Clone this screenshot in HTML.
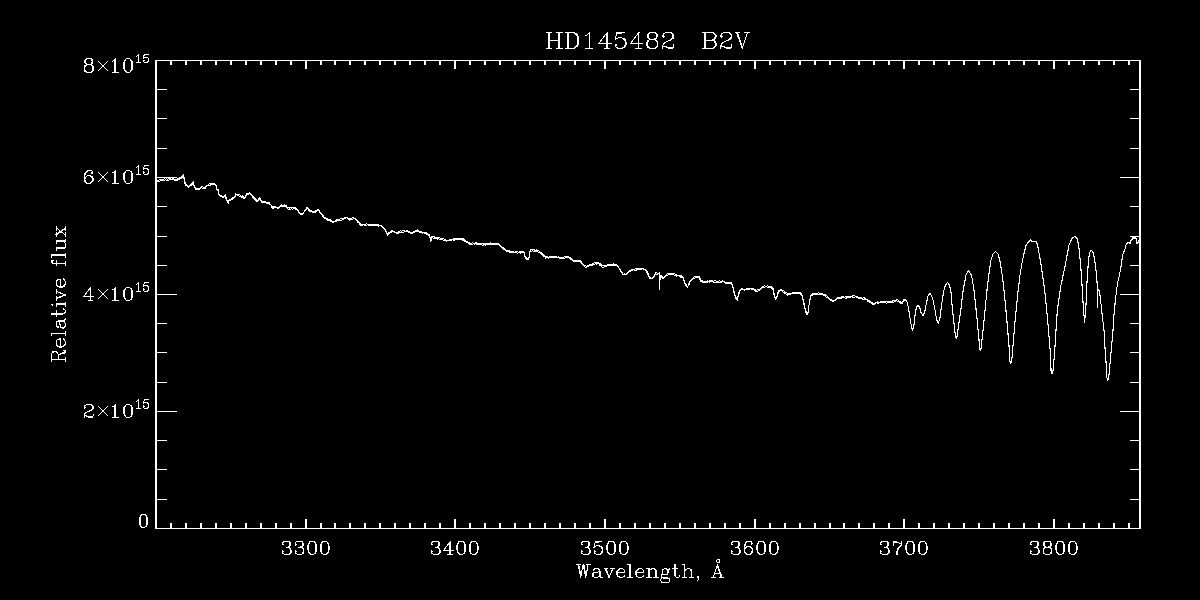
<!DOCTYPE html>
<html lang="en"><head><meta charset="utf-8"><title>HD145482 B2V spectrum</title>
<style>
html,body{margin:0;padding:0;background:#000;}
body{width:1200px;height:600px;overflow:hidden;font-family:"Liberation Serif",serif;}
svg{display:block;}
.ax rect{fill:#fff;}
.tx path{fill:none;stroke:#fff;stroke-width:1;stroke-linecap:square;stroke-linejoin:miter;}
.cv{fill:none;stroke:#fff;stroke-linejoin:round;}
.c1{stroke-width:1;}
.c2{stroke-width:1.1;}
</style></head><body>
<svg width="1200" height="600" viewBox="0 0 1200 600" role="img" aria-label="HD145482 B2V: relative flux versus wavelength in Angstrom">
<rect width="1200" height="600" fill="#000"/>
<g class="ax" shape-rendering="crispEdges">
<rect x="155" y="60" width="2" height="469"/>
<rect x="1139" y="60" width="2" height="469"/>
<rect x="155" y="60" width="986" height="1"/>
<rect x="155" y="528" width="986" height="1"/>
<rect x="170" y="523" width="2" height="5"/>
<rect x="170" y="61" width="2" height="4"/>
<rect x="185" y="523" width="2" height="5"/>
<rect x="185" y="61" width="2" height="4"/>
<rect x="200" y="523" width="2" height="5"/>
<rect x="200" y="61" width="2" height="4"/>
<rect x="215" y="523" width="2" height="5"/>
<rect x="215" y="61" width="2" height="4"/>
<rect x="230" y="523" width="2" height="5"/>
<rect x="230" y="61" width="2" height="4"/>
<rect x="245" y="523" width="2" height="5"/>
<rect x="245" y="61" width="2" height="4"/>
<rect x="260" y="523" width="2" height="5"/>
<rect x="260" y="61" width="2" height="4"/>
<rect x="275" y="523" width="2" height="5"/>
<rect x="275" y="61" width="2" height="4"/>
<rect x="290" y="523" width="2" height="5"/>
<rect x="290" y="61" width="2" height="4"/>
<rect x="305" y="519" width="2" height="9"/>
<rect x="305" y="61" width="2" height="8"/>
<rect x="320" y="523" width="2" height="5"/>
<rect x="320" y="61" width="2" height="4"/>
<rect x="334" y="523" width="2" height="5"/>
<rect x="334" y="61" width="2" height="4"/>
<rect x="349" y="523" width="2" height="5"/>
<rect x="349" y="61" width="2" height="4"/>
<rect x="364" y="523" width="2" height="5"/>
<rect x="364" y="61" width="2" height="4"/>
<rect x="379" y="523" width="2" height="5"/>
<rect x="379" y="61" width="2" height="4"/>
<rect x="394" y="523" width="2" height="5"/>
<rect x="394" y="61" width="2" height="4"/>
<rect x="409" y="523" width="2" height="5"/>
<rect x="409" y="61" width="2" height="4"/>
<rect x="424" y="523" width="2" height="5"/>
<rect x="424" y="61" width="2" height="4"/>
<rect x="439" y="523" width="2" height="5"/>
<rect x="439" y="61" width="2" height="4"/>
<rect x="454" y="519" width="2" height="9"/>
<rect x="454" y="61" width="2" height="8"/>
<rect x="469" y="523" width="2" height="5"/>
<rect x="469" y="61" width="2" height="4"/>
<rect x="484" y="523" width="2" height="5"/>
<rect x="484" y="61" width="2" height="4"/>
<rect x="499" y="523" width="2" height="5"/>
<rect x="499" y="61" width="2" height="4"/>
<rect x="514" y="523" width="2" height="5"/>
<rect x="514" y="61" width="2" height="4"/>
<rect x="529" y="523" width="2" height="5"/>
<rect x="529" y="61" width="2" height="4"/>
<rect x="544" y="523" width="2" height="5"/>
<rect x="544" y="61" width="2" height="4"/>
<rect x="559" y="523" width="2" height="5"/>
<rect x="559" y="61" width="2" height="4"/>
<rect x="574" y="523" width="2" height="5"/>
<rect x="574" y="61" width="2" height="4"/>
<rect x="589" y="523" width="2" height="5"/>
<rect x="589" y="61" width="2" height="4"/>
<rect x="604" y="519" width="2" height="9"/>
<rect x="604" y="61" width="2" height="8"/>
<rect x="619" y="523" width="2" height="5"/>
<rect x="619" y="61" width="2" height="4"/>
<rect x="634" y="523" width="2" height="5"/>
<rect x="634" y="61" width="2" height="4"/>
<rect x="649" y="523" width="2" height="5"/>
<rect x="649" y="61" width="2" height="4"/>
<rect x="664" y="523" width="2" height="5"/>
<rect x="664" y="61" width="2" height="4"/>
<rect x="679" y="523" width="2" height="5"/>
<rect x="679" y="61" width="2" height="4"/>
<rect x="694" y="523" width="2" height="5"/>
<rect x="694" y="61" width="2" height="4"/>
<rect x="709" y="523" width="2" height="5"/>
<rect x="709" y="61" width="2" height="4"/>
<rect x="724" y="523" width="2" height="5"/>
<rect x="724" y="61" width="2" height="4"/>
<rect x="739" y="523" width="2" height="5"/>
<rect x="739" y="61" width="2" height="4"/>
<rect x="754" y="519" width="2" height="9"/>
<rect x="754" y="61" width="2" height="8"/>
<rect x="769" y="523" width="2" height="5"/>
<rect x="769" y="61" width="2" height="4"/>
<rect x="784" y="523" width="2" height="5"/>
<rect x="784" y="61" width="2" height="4"/>
<rect x="799" y="523" width="2" height="5"/>
<rect x="799" y="61" width="2" height="4"/>
<rect x="814" y="523" width="2" height="5"/>
<rect x="814" y="61" width="2" height="4"/>
<rect x="829" y="523" width="2" height="5"/>
<rect x="829" y="61" width="2" height="4"/>
<rect x="843" y="523" width="2" height="5"/>
<rect x="843" y="61" width="2" height="4"/>
<rect x="858" y="523" width="2" height="5"/>
<rect x="858" y="61" width="2" height="4"/>
<rect x="873" y="523" width="2" height="5"/>
<rect x="873" y="61" width="2" height="4"/>
<rect x="888" y="523" width="2" height="5"/>
<rect x="888" y="61" width="2" height="4"/>
<rect x="903" y="519" width="2" height="9"/>
<rect x="903" y="61" width="2" height="8"/>
<rect x="918" y="523" width="2" height="5"/>
<rect x="918" y="61" width="2" height="4"/>
<rect x="933" y="523" width="2" height="5"/>
<rect x="933" y="61" width="2" height="4"/>
<rect x="948" y="523" width="2" height="5"/>
<rect x="948" y="61" width="2" height="4"/>
<rect x="963" y="523" width="2" height="5"/>
<rect x="963" y="61" width="2" height="4"/>
<rect x="978" y="523" width="2" height="5"/>
<rect x="978" y="61" width="2" height="4"/>
<rect x="993" y="523" width="2" height="5"/>
<rect x="993" y="61" width="2" height="4"/>
<rect x="1008" y="523" width="2" height="5"/>
<rect x="1008" y="61" width="2" height="4"/>
<rect x="1023" y="523" width="2" height="5"/>
<rect x="1023" y="61" width="2" height="4"/>
<rect x="1038" y="523" width="2" height="5"/>
<rect x="1038" y="61" width="2" height="4"/>
<rect x="1053" y="519" width="2" height="9"/>
<rect x="1053" y="61" width="2" height="8"/>
<rect x="1068" y="523" width="2" height="5"/>
<rect x="1068" y="61" width="2" height="4"/>
<rect x="1083" y="523" width="2" height="5"/>
<rect x="1083" y="61" width="2" height="4"/>
<rect x="1098" y="523" width="2" height="5"/>
<rect x="1098" y="61" width="2" height="4"/>
<rect x="1113" y="523" width="2" height="5"/>
<rect x="1113" y="61" width="2" height="4"/>
<rect x="1128" y="523" width="2" height="5"/>
<rect x="1128" y="61" width="2" height="4"/>
<rect x="157" y="499" width="10" height="1"/>
<rect x="1130" y="499" width="9" height="1"/>
<rect x="157" y="469" width="10" height="1"/>
<rect x="1130" y="469" width="9" height="1"/>
<rect x="157" y="440" width="10" height="1"/>
<rect x="1130" y="440" width="9" height="1"/>
<rect x="157" y="411" width="20" height="1"/>
<rect x="1120" y="411" width="19" height="1"/>
<rect x="157" y="382" width="10" height="1"/>
<rect x="1130" y="382" width="9" height="1"/>
<rect x="157" y="352" width="10" height="1"/>
<rect x="1130" y="352" width="9" height="1"/>
<rect x="157" y="323" width="10" height="1"/>
<rect x="1130" y="323" width="9" height="1"/>
<rect x="157" y="294" width="20" height="1"/>
<rect x="1120" y="294" width="19" height="1"/>
<rect x="157" y="265" width="10" height="1"/>
<rect x="1130" y="265" width="9" height="1"/>
<rect x="157" y="236" width="10" height="1"/>
<rect x="1130" y="236" width="9" height="1"/>
<rect x="157" y="206" width="10" height="1"/>
<rect x="1130" y="206" width="9" height="1"/>
<rect x="157" y="177" width="20" height="1"/>
<rect x="1120" y="177" width="19" height="1"/>
<rect x="157" y="148" width="10" height="1"/>
<rect x="1130" y="148" width="9" height="1"/>
<rect x="157" y="118" width="10" height="1"/>
<rect x="1130" y="118" width="9" height="1"/>
<rect x="157" y="89" width="10" height="1"/>
<rect x="1130" y="89" width="9" height="1"/>
</g>
<g class="tx" shape-rendering="crispEdges">
<path aria-label="3300" d="M282.94,543.88 283.57,544.5 282.94,545.12 282.3,544.5 282.3,543.88 282.94,542.62 283.68,541.95 285.43,541.38 288.07,541.38 288.5,541.53M288.5,541.53 288.6,541.64M288.71,541.69 289.29,542 289.92,543.25 289.92,545.17 289.34,546.33 288.71,546.69M288.5,554.34 288.6,554.24M288.5,554.34 288.07,554.5 285.43,554.5 283.68,553.92 282.89,553.2 282.3,552.05 282.3,551.38 282.94,550.75 283.57,551.38 282.94,552M289.98,548.36 289.24,547.58 288.07,547M289.98,548.36 290.56,548.88 291.19,550.12 291.19,552.05 290.61,553.2 289.92,553.88 288.76,554.24M289.98,548.36 290.56,550.08 290.56,552.05 289.98,553.2 289.24,553.92 288.71,554.19M288.07,547 288.5,546.84M288.07,547 286.11,547M288.6,546.74 288.5,546.84M288.76,554.24 288.6,554.29M288.6,546.79 288.76,546.74M288.76,541.64 288.6,541.58M288.76,541.64 289.82,541.95 290.56,543.25 290.56,545.17 289.98,546.33 288.76,546.74M295.64,543.88 296.27,544.5 295.64,545.12 295,544.5 295,543.88 295.64,542.62 296.38,541.95 298.13,541.38 300.77,541.38 301.2,541.53M301.2,541.53 301.3,541.64M301.41,541.69 301.99,542 302.62,543.25 302.62,545.17 302.04,546.33 301.41,546.69M301.2,554.34 301.3,554.24M301.2,554.34 300.77,554.5 298.13,554.5 296.38,553.92 295.59,553.2 295,552.05 295,551.38 295.64,550.75 296.27,551.38 295.64,552M302.68,548.36 301.94,547.58 300.77,547M302.68,548.36 303.26,548.88 303.89,550.12 303.89,552.05 303.31,553.2 302.62,553.88 301.46,554.24M302.68,548.36 303.26,550.08 303.26,552.05 302.68,553.2 301.94,553.92 301.41,554.19M300.77,547 301.2,546.84M300.77,547 298.81,547M301.3,546.74 301.2,546.84M301.46,554.24 301.3,554.29M301.3,546.79 301.46,546.74M301.46,541.64 301.3,541.58M301.46,541.64 302.52,541.95 303.26,543.25 303.26,545.17 302.68,546.33 301.46,546.74M310.93,554.29 309.61,553.88 308.39,552.11 307.7,548.98 307.7,546.89 308.34,543.88 309.61,542 310.93,541.58M310.93,554.29 311.09,554.34M313.37,541.64 313.26,541.53M313.37,554.29 313.53,554.24M313.53,541.64 313.37,541.58M313.53,541.64 314.69,542 315.91,543.77 316.59,546.89 316.59,548.98 315.96,552 314.69,553.88 313.53,554.24M311.2,541.48 311.46,541.38 312.84,541.38 313.26,541.53M311.2,541.48 311.09,541.58M311.09,554.29 311.2,554.39M313.37,554.24 313.26,554.34M310.99,554.24 310.25,553.88 309.56,553.2 308.97,552.05 308.34,548.98 308.34,546.89 308.97,543.88 309.61,542.62 310.25,542 310.99,541.64M310.93,541.58 311.09,541.53M311.2,554.39 311.51,554.5 312.84,554.5 313.26,554.34M313.47,541.69 314,541.95 314.69,542.62 315.32,543.88 315.96,546.89 315.96,548.98 315.32,552.05 314.74,553.2 314,553.92 313.47,554.19M323.63,554.29 322.31,553.88 321.09,552.11 320.4,548.98 320.4,546.89 321.04,543.88 322.31,542 323.63,541.58M323.63,554.29 323.79,554.34M326.07,541.64 325.96,541.53M326.07,554.29 326.23,554.24M326.23,541.64 326.07,541.58M326.23,541.64 327.39,542 328.61,543.77 329.29,546.89 329.29,548.98 328.66,552 327.39,553.88 326.23,554.24M323.9,541.48 324.16,541.38 325.54,541.38 325.96,541.53M323.9,541.48 323.79,541.58M323.79,554.29 323.9,554.39M326.07,554.24 325.96,554.34M323.69,554.24 322.94,553.88 322.26,553.2 321.67,552.05 321.04,548.98 321.04,546.89 321.67,543.88 322.31,542.62 322.94,542 323.69,541.64M323.63,541.58 323.79,541.53M323.9,554.39 324.21,554.5 325.54,554.5 325.96,554.34M326.17,541.69 326.7,541.95 327.39,542.62 328.02,543.88 328.66,546.89 328.66,548.98 328.02,552.05 327.44,553.2 326.7,553.92 326.17,554.19"><title>3300</title></path>
<path aria-label="3400" d="M431.94,543.88 432.57,544.5 431.94,545.12 431.3,544.5 431.3,543.88 431.94,542.62 432.68,541.95 434.43,541.38 437.07,541.38 437.5,541.53M437.5,541.53 437.6,541.64M437.71,541.69 438.29,542 438.92,543.25 438.92,545.17 438.34,546.33 437.71,546.69M437.5,554.34 437.6,554.24M437.5,554.34 437.07,554.5 434.43,554.5 432.68,553.92 431.89,553.2 431.3,552.05 431.3,551.38 431.94,550.75 432.57,551.38 431.94,552M438.98,548.36 438.24,547.58 437.07,547M438.98,548.36 439.56,548.88 440.19,550.12 440.19,552.05 439.61,553.2 438.92,553.88 437.76,554.24M438.98,548.36 439.56,550.08 439.56,552.05 438.98,553.2 438.24,553.92 437.71,554.19M437.07,547 437.5,546.84M437.07,547 435.11,547M437.6,546.74 437.5,546.84M437.76,554.24 437.6,554.29M437.6,546.79 437.76,546.74M437.76,541.64 437.6,541.58M437.76,541.64 438.82,541.95 439.56,543.25 439.56,545.17 438.98,546.33 437.76,546.74M452.26,554.5 450.35,554.5M450.35,541.48 449.83,542.05 443.42,550.64 443.48,550.75 449.72,550.75M450.35,541.48 450.35,550.75M449.72,550.75 449.72,542.62M449.72,550.75 450.35,550.75M449.72,550.75 449.72,554.5M450.35,550.75 453.53,550.75M450.35,550.75 450.35,554.5M449.72,554.5 447.81,554.5M449.72,554.5 450.35,554.5M459.93,554.29 458.61,553.88 457.39,552.11 456.7,548.98 456.7,546.89 457.34,543.88 458.61,542 459.93,541.58M459.93,554.29 460.09,554.34M462.37,541.64 462.26,541.53M462.37,554.29 462.53,554.24M462.53,541.64 462.37,541.58M462.53,541.64 463.69,542 464.91,543.77 465.59,546.89 465.59,548.98 464.96,552 463.69,553.88 462.53,554.24M460.2,541.48 460.46,541.38 461.84,541.38 462.26,541.53M460.2,541.48 460.09,541.58M460.09,554.29 460.2,554.39M462.37,554.24 462.26,554.34M459.99,554.24 459.25,553.88 458.56,553.2 457.97,552.05 457.34,548.98 457.34,546.89 457.97,543.88 458.61,542.62 459.25,542 459.99,541.64M459.93,541.58 460.09,541.53M460.2,554.39 460.51,554.5 461.84,554.5 462.26,554.34M462.47,541.69 463,541.95 463.69,542.62 464.32,543.88 464.96,546.89 464.96,548.98 464.32,552.05 463.74,553.2 463,553.92 462.47,554.19M472.63,554.29 471.31,553.88 470.09,552.11 469.4,548.98 469.4,546.89 470.04,543.88 471.31,542 472.63,541.58M472.63,554.29 472.79,554.34M475.07,541.64 474.96,541.53M475.07,554.29 475.23,554.24M475.23,541.64 475.07,541.58M475.23,541.64 476.39,542 477.61,543.77 478.29,546.89 478.29,548.98 477.66,552 476.39,553.88 475.23,554.24M472.9,541.48 473.16,541.38 474.54,541.38 474.96,541.53M472.9,541.48 472.79,541.58M472.79,554.29 472.9,554.39M475.07,554.24 474.96,554.34M472.69,554.24 471.94,553.88 471.26,553.2 470.67,552.05 470.04,548.98 470.04,546.89 470.67,543.88 471.31,542.62 471.94,542 472.69,541.64M472.63,541.58 472.79,541.53M472.9,554.39 473.21,554.5 474.54,554.5 474.96,554.34M475.17,541.69 475.7,541.95 476.39,542.62 477.02,543.88 477.66,546.89 477.66,548.98 477.02,552.05 476.44,553.2 475.7,553.92 475.17,554.19"><title>3400</title></path>
<path aria-label="3500" d="M581.94,543.88 582.57,544.5 581.94,545.12 581.3,544.5 581.3,543.88 581.94,542.62 582.68,541.95 584.43,541.38 587.07,541.38 587.5,541.53M587.5,541.53 587.6,541.64M587.71,541.69 588.29,542 588.92,543.25 588.92,545.17 588.34,546.33 587.71,546.69M587.5,554.34 587.6,554.24M587.5,554.34 587.07,554.5 584.43,554.5 582.68,553.92 581.89,553.2 581.3,552.05 581.3,551.38 581.94,550.75 582.57,551.38 581.94,552M588.98,548.36 588.24,547.58 587.07,547M588.98,548.36 589.56,548.88 590.19,550.12 590.19,552.05 589.61,553.2 588.92,553.88 587.76,554.24M588.98,548.36 589.56,550.08 589.56,552.05 588.98,553.2 588.24,553.92 587.71,554.19M587.07,547 587.5,546.84M587.07,547 585.12,547M587.6,546.74 587.5,546.84M587.76,554.24 587.6,554.29M587.6,546.79 587.76,546.74M587.76,541.64 587.6,541.58M587.76,541.64 588.82,541.95 589.56,543.25 589.56,545.17 588.98,546.33 587.76,546.74M599.83,546.01 599.67,545.96M599.83,546.01 600.99,546.38 602.26,547.62 602.89,549.45 602.89,550.8 602.26,552.62 600.99,553.88 599.83,554.24M595.27,542 598.56,542 601.2,541.48 601.26,541.38M601.62,541.38 601.26,541.38M599.67,554.29 599.83,554.24M594.64,552 595.27,551.38 594.64,550.75 594,551.38 594,552.05 594.59,553.2 595.38,553.92 597.13,554.5 599.14,554.5 599.56,554.34M599.56,545.91 599.14,545.75 597.13,545.75 595.27,546.38 594.11,547.52M599.56,545.91 599.67,546.01M599.77,546.06 600.3,546.33 601.62,547.62 602.26,549.45 602.26,550.8 601.62,552.62 600.3,553.92 599.77,554.19M599.56,554.34 599.67,554.24M601.26,541.38 595.33,541.38 594.06,547.47M609.93,554.29 608.61,553.88 607.39,552.11 606.7,548.98 606.7,546.89 607.34,543.88 608.61,542 609.93,541.58M609.93,554.29 610.09,554.34M612.37,541.64 612.26,541.53M612.37,554.29 612.53,554.24M612.53,541.64 612.37,541.58M612.53,541.64 613.69,542 614.91,543.77 615.6,546.89 615.6,548.98 614.96,552 613.69,553.88 612.53,554.24M610.2,541.48 610.46,541.38 611.84,541.38 612.26,541.53M610.2,541.48 610.09,541.58M610.09,554.29 610.2,554.39M612.37,554.24 612.26,554.34M609.99,554.24 609.25,553.88 608.56,553.2 607.98,552.05 607.34,548.98 607.34,546.89 607.98,543.88 608.61,542.62 609.25,542 609.99,541.64M609.93,541.58 610.09,541.53M610.2,554.39 610.51,554.5 611.84,554.5 612.26,554.34M612.47,541.69 613,541.95 613.69,542.62 614.32,543.88 614.96,546.89 614.96,548.98 614.32,552.05 613.74,553.2 613,553.92 612.47,554.19M622.63,554.29 621.31,553.88 620.09,552.11 619.4,548.98 619.4,546.89 620.04,543.88 621.31,542 622.63,541.58M622.63,554.29 622.79,554.34M625.07,541.64 624.96,541.53M625.07,554.29 625.23,554.24M625.23,541.64 625.07,541.58M625.23,541.64 626.39,542 627.61,543.77 628.29,546.89 628.29,548.98 627.66,552 626.39,553.88 625.23,554.24M622.9,541.48 623.16,541.38 624.54,541.38 624.96,541.53M622.9,541.48 622.79,541.58M622.79,554.29 622.9,554.39M625.07,554.24 624.96,554.34M622.69,554.24 621.94,553.88 621.26,553.2 620.67,552.05 620.04,548.98 620.04,546.89 620.67,543.88 621.31,542.62 621.94,542 622.69,541.64M622.63,541.58 622.79,541.53M622.9,554.39 623.21,554.5 624.54,554.5 624.96,554.34M625.17,541.69 625.7,541.95 626.39,542.62 627.02,543.88 627.66,546.89 627.66,548.98 627.02,552.05 626.44,553.2 625.7,553.92 625.17,554.19"><title>3500</title></path>
<path aria-label="3600" d="M731.94,543.88 732.57,544.5 731.94,545.12 731.3,544.5 731.3,543.88 731.94,542.62 732.68,541.95 734.43,541.38 737.07,541.38 737.5,541.53M737.5,541.53 737.6,541.64M737.71,541.69 738.29,542 738.92,543.25 738.92,545.17 738.34,546.33 737.71,546.69M737.5,554.34 737.6,554.24M737.5,554.34 737.07,554.5 734.43,554.5 732.68,553.92 731.89,553.2 731.3,552.05 731.3,551.38 731.94,550.75 732.57,551.38 731.94,552M738.98,548.36 738.24,547.58 737.07,547M738.98,548.36 739.56,548.88 740.19,550.12 740.19,552.05 739.61,553.2 738.92,553.88 737.76,554.24M738.98,548.36 739.56,550.08 739.56,552.05 738.98,553.2 738.24,553.92 737.71,554.19M737.07,547 737.5,546.84M737.07,547 735.12,547M737.6,546.74 737.5,546.84M737.76,554.24 737.6,554.29M737.6,546.79 737.76,546.74M737.76,541.64 737.6,541.58M737.76,541.64 738.82,541.95 739.56,543.25 739.56,545.17 738.98,546.33 737.76,546.74M747.87,541.58 748.02,541.53M747.87,541.58 746.54,542 745.27,543.25 744.64,544.5 744,546.95 744,550.8 744.59,552.52 745.91,553.88 747.23,554.29M747.23,554.29 747.39,554.34M748.02,541.58 748.13,541.48M749.67,546.64 749.56,546.53M749.67,554.29 749.83,554.24M747.39,554.29 747.5,554.39M751.62,543.25 750.99,543.88 751.62,544.5 752.26,543.88 752.26,543.25 751.57,541.95 750.41,541.38 748.4,541.38 748.13,541.48M747.29,554.24 746.54,553.88 745.27,552.62 744.64,550.8 744.64,549.92M749.83,546.64 749.67,546.58M749.83,546.64 750.99,547 752.26,548.25 752.89,550.08 752.89,550.8 752.26,552.62 750.99,553.88 749.83,554.24M747.5,554.39 747.81,554.5 749.14,554.5 749.56,554.34M749.56,554.34 749.67,554.24M744.64,549.92 744.64,546.95 745.27,544.5 745.91,543.25 747.18,542 747.92,541.64M744.64,549.92 744.75,549.86 745.27,548.25 746.54,547 748.4,546.38 749.14,546.38 749.56,546.53M749.77,554.19 750.3,553.92 751.62,552.62 752.26,550.8 752.26,550.08 751.62,548.25 750.3,546.95 749.77,546.69M759.93,554.29 758.61,553.88 757.39,552.11 756.7,548.98 756.7,546.89 757.34,543.88 758.61,542 759.93,541.58M759.93,554.29 760.09,554.34M762.37,541.64 762.26,541.53M762.37,554.29 762.53,554.24M762.53,541.64 762.37,541.58M762.53,541.64 763.69,542 764.91,543.77 765.6,546.89 765.6,548.98 764.96,552 763.69,553.88 762.53,554.24M760.2,541.48 760.46,541.38 761.84,541.38 762.26,541.53M760.2,541.48 760.09,541.58M760.09,554.29 760.2,554.39M762.37,554.24 762.26,554.34M759.99,554.24 759.25,553.88 758.56,553.2 757.98,552.05 757.34,548.98 757.34,546.89 757.98,543.88 758.61,542.62 759.25,542 759.99,541.64M759.93,541.58 760.09,541.53M760.2,554.39 760.51,554.5 761.84,554.5 762.26,554.34M762.47,541.69 763,541.95 763.69,542.62 764.32,543.88 764.96,546.89 764.96,548.98 764.32,552.05 763.74,553.2 763,553.92 762.47,554.19M772.63,554.29 771.31,553.88 770.09,552.11 769.4,548.98 769.4,546.89 770.04,543.88 771.31,542 772.63,541.58M772.63,554.29 772.79,554.34M775.07,541.64 774.96,541.53M775.07,554.29 775.23,554.24M775.23,541.64 775.07,541.58M775.23,541.64 776.39,542 777.61,543.77 778.29,546.89 778.29,548.98 777.66,552 776.39,553.88 775.23,554.24M772.9,541.48 773.16,541.38 774.54,541.38 774.96,541.53M772.9,541.48 772.79,541.58M772.79,554.29 772.9,554.39M775.07,554.24 774.96,554.34M772.69,554.24 771.94,553.88 771.26,553.2 770.67,552.05 770.04,548.98 770.04,546.89 770.67,543.88 771.31,542.62 771.94,542 772.69,541.64M772.63,541.58 772.79,541.53M772.9,554.39 773.21,554.5 774.54,554.5 774.96,554.34M775.17,541.69 775.7,541.95 776.39,542.62 777.02,543.88 777.66,546.89 777.66,548.98 777.02,552.05 776.44,553.2 775.7,553.92 775.17,554.19"><title>3600</title></path>
<path aria-label="3700" d="M880.94,543.88 881.57,544.5 880.94,545.12 880.3,544.5 880.3,543.88 880.94,542.62 881.68,541.95 883.43,541.38 886.07,541.38 886.5,541.53M886.5,541.53 886.6,541.64M886.71,541.69 887.29,542 887.92,543.25 887.92,545.17 887.34,546.33 886.71,546.69M886.5,554.34 886.6,554.24M886.5,554.34 886.07,554.5 883.43,554.5 881.68,553.92 880.89,553.2 880.3,552.05 880.3,551.38 880.94,550.75 881.57,551.38 880.94,552M887.98,548.36 887.24,547.58 886.07,547M887.98,548.36 888.56,548.88 889.19,550.12 889.19,552.05 888.61,553.2 887.92,553.88 886.76,554.24M887.98,548.36 888.56,550.08 888.56,552.05 887.98,553.2 887.24,553.92 886.71,554.19M886.07,547 886.5,546.84M886.07,547 884.12,547M886.6,546.74 886.5,546.84M886.76,554.24 886.6,554.29M886.6,546.79 886.76,546.74M886.76,541.64 886.6,541.58M886.76,541.64 887.82,541.95 888.56,543.25 888.56,545.17 887.98,546.33 886.76,546.74M901.89,541.38 901.89,541.53M898.88,543.04 896.23,542 894.91,542 893.85,542.52M901.89,541.53 901.31,542.58 900.62,543.25 899.36,543.25 899.09,543.14M901.89,541.53 901.89,543.3 901.31,545.02 900.94,545.49M893,541.38 893,543.77M900.68,545.7 898.08,548.25 897.4,549.61 896.81,551.33 896.81,554.5M893.75,542.58 893,543.77M897.45,554.5 897.45,551.33 898.03,549.61 898.83,548.09 900.73,545.75M893,545.12 893,543.77M893.8,542.47 894.91,541.38 896.18,541.38 898.88,542.99M898.99,543.04 899.09,543.14M908.93,554.29 907.61,553.88 906.39,552.11 905.7,548.98 905.7,546.89 906.34,543.88 907.61,542 908.93,541.58M908.93,554.29 909.09,554.34M911.37,541.64 911.26,541.53M911.37,554.29 911.53,554.24M911.53,541.64 911.37,541.58M911.53,541.64 912.69,542 913.91,543.77 914.6,546.89 914.6,548.98 913.96,552 912.69,553.88 911.53,554.24M909.2,541.48 909.46,541.38 910.84,541.38 911.26,541.53M909.2,541.48 909.09,541.58M909.09,554.29 909.2,554.39M911.37,554.24 911.26,554.34M908.99,554.24 908.25,553.88 907.56,553.2 906.98,552.05 906.34,548.98 906.34,546.89 906.98,543.88 907.61,542.62 908.25,542 908.99,541.64M908.93,541.58 909.09,541.53M909.2,554.39 909.51,554.5 910.84,554.5 911.26,554.34M911.47,541.69 912,541.95 912.69,542.62 913.32,543.88 913.96,546.89 913.96,548.98 913.32,552.05 912.74,553.2 912,553.92 911.47,554.19M921.63,554.29 920.31,553.88 919.09,552.11 918.4,548.98 918.4,546.89 919.04,543.88 920.31,542 921.63,541.58M921.63,554.29 921.79,554.34M924.07,541.64 923.96,541.53M924.07,554.29 924.23,554.24M924.23,541.64 924.07,541.58M924.23,541.64 925.39,542 926.61,543.77 927.29,546.89 927.29,548.98 926.66,552 925.39,553.88 924.23,554.24M921.9,541.48 922.16,541.38 923.54,541.38 923.96,541.53M921.9,541.48 921.79,541.58M921.79,554.29 921.9,554.39M924.07,554.24 923.96,554.34M921.69,554.24 920.94,553.88 920.26,553.2 919.67,552.05 919.04,548.98 919.04,546.89 919.67,543.88 920.31,542.62 920.94,542 921.69,541.64M921.63,541.58 921.79,541.53M921.9,554.39 922.21,554.5 923.54,554.5 923.96,554.34M924.17,541.69 924.7,541.95 925.39,542.62 926.02,543.88 926.66,546.89 926.66,548.98 926.02,552.05 925.44,553.2 924.7,553.92 924.17,554.19"><title>3700</title></path>
<path aria-label="3800" d="M1030.94,543.88 1031.58,544.5 1030.94,545.12 1030.31,544.5 1030.31,543.88 1030.94,542.62 1031.68,541.95 1033.43,541.38 1036.07,541.38 1036.5,541.53M1036.5,541.53 1036.6,541.64M1036.71,541.69 1037.29,542 1037.93,543.25 1037.93,545.17 1037.34,546.33 1036.71,546.69M1036.5,554.34 1036.6,554.24M1036.5,554.34 1036.07,554.5 1033.43,554.5 1031.68,553.92 1030.89,553.2 1030.31,552.05 1030.31,551.38 1030.94,550.75 1031.58,551.38 1030.94,552M1037.98,548.36 1037.24,547.58 1036.07,547M1037.98,548.36 1038.56,548.88 1039.2,550.12 1039.2,552.05 1038.61,553.2 1037.93,553.88 1036.76,554.24M1037.98,548.36 1038.56,550.08 1038.56,552.05 1037.98,553.2 1037.24,553.92 1036.71,554.19M1036.07,547 1036.5,546.84M1036.07,547 1034.12,547M1036.6,546.74 1036.5,546.84M1036.76,554.24 1036.6,554.29M1036.6,546.79 1036.76,546.74M1036.76,541.64 1036.6,541.58M1036.76,541.64 1037.82,541.95 1038.56,543.25 1038.56,545.17 1037.98,546.33 1036.76,546.74M1045.75,554.29 1045.86,554.39M1045.86,554.39 1046.18,554.5 1048.77,554.5 1049.2,554.34M1049.3,554.24 1049.2,554.34M1049.41,554.19 1049.94,553.92 1050.68,553.2 1051.26,552.05 1051.26,549.5 1050.62,548.25 1049.94,547.58 1049.41,547.31M1049.46,554.24 1050.62,553.88 1051.31,553.2 1051.89,552.05 1051.89,549.5 1051.37,548.46 1050.62,547.62 1049.46,547.26M1049.46,554.24 1049.3,554.29M1049.3,547.21 1049.46,547.26M1049.46,546.74 1050.62,546.38 1051.26,545.17 1051.26,543.25 1050.68,542.11 1050.52,541.95 1049.46,541.64M1049.46,546.74 1049.3,546.79M1045.86,547.11 1046.13,547M1045.86,547.11 1045.75,547.21M1045.6,546.79 1044.28,546.38 1043.64,545.17 1043.64,543.25 1044.22,542.11 1044.38,541.95 1045.6,541.58M1045.6,546.79 1045.75,546.84M1045.75,546.79 1045.86,546.89M1049.3,547.26 1049.2,547.16M1049.3,541.64 1049.2,541.53M1045.86,541.48 1046.13,541.38 1048.77,541.38 1049.2,541.53M1045.86,541.48 1045.75,541.58M1045.65,541.64 1044.86,542.11 1044.28,543.25 1044.28,545.17 1044.86,546.33 1045.65,546.74M1049.2,546.84 1049.3,546.74M1049.2,546.84 1048.77,547M1045.6,541.58 1045.75,541.53M1048.77,547 1046.13,547M1048.77,547 1049.2,547.16M1045.86,546.89 1046.13,547M1045.6,554.29 1044.28,553.88 1043.59,553.2 1043.01,552.05 1043.01,549.5 1043.64,548.25 1044.28,547.62 1045.6,547.21M1045.6,554.29 1045.75,554.34M1049.46,541.64 1049.3,541.58M1045.65,554.24 1044.91,553.88 1044.22,553.2 1043.64,552.05 1043.64,549.5 1044.28,548.25 1044.91,547.62 1045.65,547.26M1049.41,541.69 1049.99,542 1050.62,543.25 1050.62,545.17 1050.04,546.33 1049.41,546.69M1045.75,547.16 1045.6,547.21M1058.93,554.29 1057.61,553.88 1056.39,552.11 1055.71,548.98 1055.71,546.89 1056.34,543.88 1057.61,542 1058.93,541.58M1058.93,554.29 1059.09,554.34M1061.37,541.64 1061.26,541.53M1061.37,554.29 1061.53,554.24M1061.53,541.64 1061.37,541.58M1061.53,541.64 1062.69,542 1063.91,543.77 1064.6,546.89 1064.6,548.98 1063.96,552 1062.69,553.88 1061.53,554.24M1059.2,541.48 1059.46,541.38 1060.84,541.38 1061.26,541.53M1059.2,541.48 1059.09,541.58M1059.09,554.29 1059.2,554.39M1061.37,554.24 1061.26,554.34M1058.99,554.24 1058.25,553.88 1057.56,553.2 1056.98,552.05 1056.34,548.98 1056.34,546.89 1056.98,543.88 1057.61,542.62 1058.25,542 1058.99,541.64M1058.93,541.58 1059.09,541.53M1059.2,554.39 1059.52,554.5 1060.84,554.5 1061.26,554.34M1061.47,541.69 1062,541.95 1062.69,542.62 1063.33,543.88 1063.96,546.89 1063.96,548.98 1063.33,552.05 1062.74,553.2 1062,553.92 1061.47,554.19M1071.63,554.29 1070.31,553.88 1069.09,552.11 1068.41,548.98 1068.41,546.89 1069.04,543.88 1070.31,542 1071.63,541.58M1071.63,554.29 1071.79,554.34M1074.07,541.64 1073.96,541.53M1074.07,554.29 1074.23,554.24M1074.23,541.64 1074.07,541.58M1074.23,541.64 1075.39,542 1076.61,543.77 1077.3,546.89 1077.3,548.98 1076.66,552 1075.39,553.88 1074.23,554.24M1071.9,541.48 1072.16,541.38 1073.54,541.38 1073.96,541.53M1071.9,541.48 1071.79,541.58M1071.79,554.29 1071.9,554.39M1074.07,554.24 1073.96,554.34M1071.69,554.24 1070.95,553.88 1070.26,553.2 1069.68,552.05 1069.04,548.98 1069.04,546.89 1069.68,543.88 1070.31,542.62 1070.95,542 1071.69,541.64M1071.63,541.58 1071.79,541.53M1071.9,554.39 1072.22,554.5 1073.54,554.5 1073.96,554.34M1074.17,541.69 1074.7,541.95 1075.39,542.62 1076.03,543.88 1076.66,546.89 1076.66,548.98 1076.03,552.05 1075.44,553.2 1074.7,553.92 1074.17,554.19"><title>3800</title></path>
<path aria-label="8×10^15" d="M87,72.28 87.11,72.39M87.11,72.39 87.44,72.5 90.11,72.5 90.55,72.33M90.66,72.22 90.55,72.33M90.77,72.17 91.32,71.89 92.08,71.11 92.68,69.89 92.68,67.16 92.03,65.83 91.32,65.11 90.77,64.83M90.83,72.22 92.03,71.83 92.73,71.11 93.34,69.89 93.34,67.16 92.79,66.05 92.03,65.16 90.83,64.78M90.83,72.22 90.66,72.28M90.66,64.72 90.83,64.78M90.83,64.22 92.03,63.83 92.68,62.55 92.68,60.49 92.08,59.27 91.91,59.11 90.83,58.77M90.83,64.22 90.66,64.28M87.11,64.61 87.39,64.5M87.11,64.61 87,64.72M86.84,64.28 85.48,63.83 84.82,62.55 84.82,60.49 85.42,59.27 85.59,59.11 86.84,58.71M86.84,64.28 87,64.33M87,64.28 87.11,64.38M90.66,64.78 90.55,64.66M90.66,58.77 90.55,58.66M87.11,58.61 87.39,58.49 90.11,58.49 90.55,58.66M87.11,58.61 87,58.71M86.9,58.77 86.08,59.27 85.48,60.49 85.48,62.55 86.08,63.78 86.9,64.22M90.55,64.33 90.66,64.22M90.55,64.33 90.11,64.5M86.84,58.71 87,58.66M90.11,64.5 87.39,64.5M90.11,64.5 90.55,64.66M87.11,64.38 87.39,64.5M86.84,72.28 85.48,71.83 84.77,71.11 84.17,69.89 84.17,67.16 84.82,65.83 85.48,65.16 86.84,64.72M86.84,72.28 87,72.33M90.83,58.77 90.66,58.71M86.9,72.22 86.13,71.83 85.42,71.11 84.82,69.89 84.82,67.16 85.48,65.83 86.13,65.16 86.9,64.78M90.77,58.83 91.37,59.16 92.03,60.49 92.03,62.55 91.42,63.78 90.77,64.16M87,64.66 86.84,64.72M114.95,72.5 114.95,59.21M114.95,72.5 112.33,72.5M114.95,72.5 115.61,72.5M118.23,72.5 115.61,72.5M114.95,59.21 115.61,58.61 115.61,72.5M114.95,59.21 113.59,60.55 112.33,61.16M126.79,72.28 125.43,71.83 124.17,69.95 123.47,66.61 123.47,64.38 124.12,61.16 125.43,59.16 126.79,58.71M126.79,72.28 126.96,72.33M129.31,58.77 129.2,58.66M129.31,72.28 129.47,72.22M129.47,58.77 129.31,58.71M129.47,58.77 130.67,59.16 131.93,61.05 132.63,64.38 132.63,66.61 131.98,69.83 130.67,71.83 129.47,72.22M127.07,58.61 127.34,58.49 128.76,58.49 129.2,58.66M127.07,58.61 126.96,58.71M126.96,72.28 127.07,72.39M129.31,72.22 129.2,72.33M126.85,72.22 126.09,71.83 125.38,71.11 124.78,69.89 124.12,66.61 124.12,64.38 124.78,61.16 125.43,59.83 126.09,59.16 126.85,58.77M126.79,58.71 126.96,58.66M127.07,72.39 127.4,72.5 128.76,72.5 129.2,72.33M129.41,58.83 129.96,59.11 130.67,59.83 131.33,61.16 131.98,64.38 131.98,66.61 131.33,69.89 130.72,71.11 129.96,71.89 129.41,72.17M98.6,61.5 107.7,70.5M107.7,61.5 98.6,70.5M138.26,62.5 138.26,54.91M138.26,62.5 136.68,62.5M138.26,62.5 138.66,62.5M140.24,62.5 138.66,62.5M138.26,54.91 138.66,54.56 138.66,62.5M138.26,54.91 137.44,55.67 136.68,56.02M147.04,57.33 146.94,57.29M147.04,57.33 147.76,57.55 148.56,58.31 148.95,59.42 148.95,60.24 148.56,61.36 147.76,62.12 147.04,62.34M144.2,54.88 146.25,54.88 147.89,54.56 147.93,54.5M148.16,54.5 147.93,54.5M146.94,62.37 147.04,62.34M143.8,60.98 144.2,60.59 143.8,60.21 143.41,60.59 143.41,61.01 143.77,61.71 144.27,62.15 145.36,62.5 146.61,62.5 146.87,62.4M146.87,57.26 146.61,57.17 145.36,57.17 144.2,57.55 143.48,58.24M146.87,57.26 146.94,57.33M147,57.36 147.34,57.52 148.16,58.31 148.56,59.42 148.56,60.24 148.16,61.36 147.34,62.15 147,62.31M146.87,62.4 146.94,62.34M147.93,54.5 144.23,54.5 143.44,58.21"><title>8×10^15</title></path>
<path aria-label="6×10^15" d="M88.15,170.71 88.31,170.66M88.15,170.71 86.78,171.12 85.48,172.36 84.82,173.6 84.17,176.02 84.17,179.84 84.77,181.54 86.13,182.88 87.49,183.3M87.49,183.3 87.66,183.35M88.31,170.71 88.42,170.61M90.01,175.71 89.9,175.61M90.01,183.3 90.17,183.24M87.66,183.3 87.77,183.39M92.03,172.36 91.37,172.98 92.03,173.6 92.68,172.98 92.68,172.36 91.97,171.07 90.77,170.5 88.7,170.5 88.42,170.61M87.55,183.24 86.78,182.88 85.48,181.64 84.82,179.84 84.82,178.96M90.17,175.71 90.01,175.66M90.17,175.71 91.37,176.07 92.68,177.31 93.34,179.12 93.34,179.84 92.68,181.64 91.37,182.88 90.17,183.24M87.77,183.39 88.09,183.5 89.46,183.5 89.9,183.35M89.9,183.35 90.01,183.24M84.82,178.96 84.82,176.02 85.48,173.6 86.13,172.36 87.44,171.12 88.21,170.76M84.82,178.96 84.93,178.91 85.48,177.31 86.78,176.07 88.7,175.45 89.46,175.45 89.9,175.61M90.11,183.19 90.66,182.93 92.03,181.64 92.68,179.84 92.68,179.12 92.03,177.31 90.66,176.02 90.11,175.76M114.95,183.5 114.95,171.17M114.95,183.5 112.33,183.5M114.95,183.5 115.61,183.5M118.23,183.5 115.61,183.5M114.95,171.17 115.61,170.61 115.61,183.5M114.95,171.17 113.59,172.41 112.33,172.98M126.79,183.3 125.43,182.88 124.17,181.13 123.47,178.03 123.47,175.97 124.12,172.98 125.43,171.12 126.79,170.71M126.79,183.3 126.96,183.35M129.31,170.76 129.2,170.66M129.31,183.3 129.47,183.24M129.47,170.76 129.31,170.71M129.47,170.76 130.67,171.12 131.93,172.87 132.63,175.97 132.63,178.03 131.98,181.02 130.67,182.88 129.47,183.24M127.07,170.61 127.34,170.5 128.76,170.5 129.2,170.66M127.07,170.61 126.96,170.71M126.96,183.3 127.07,183.39M129.31,183.24 129.2,183.35M126.85,183.24 126.09,182.88 125.38,182.21 124.78,181.07 124.12,178.03 124.12,175.97 124.78,172.98 125.43,171.74 126.09,171.12 126.85,170.76M126.79,170.71 126.96,170.66M127.07,183.39 127.4,183.5 128.76,183.5 129.2,183.35M129.41,170.81 129.96,171.07 130.67,171.74 131.33,172.98 131.98,175.97 131.98,178.03 131.33,181.07 130.72,182.21 129.96,182.93 129.41,183.19M98.6,172.5 107.7,181.5M107.7,172.5 98.6,181.5M138.26,174.5 138.26,165.96M138.26,174.5 136.68,174.5M138.26,174.5 138.66,174.5M140.24,174.5 138.66,174.5M138.26,165.96 138.66,165.57 138.66,174.5M138.26,165.96 137.44,166.82 136.68,167.21M147.04,168.68 146.94,168.64M147.04,168.68 147.76,168.93 148.56,169.79 148.95,171.04 148.95,171.96 148.56,173.21 147.76,174.07 147.04,174.32M144.2,165.93 146.25,165.93 147.89,165.57 147.93,165.5M148.16,165.5 147.93,165.5M146.94,174.36 147.04,174.32M143.8,172.79 144.2,172.36 143.8,171.93 143.41,172.36 143.41,172.82 143.77,173.61 144.27,174.11 145.36,174.5 146.61,174.5 146.87,174.39M146.87,168.61 146.61,168.5 145.36,168.5 144.2,168.93 143.48,169.71M146.87,168.61 146.94,168.68M147,168.71 147.34,168.89 148.16,169.79 148.56,171.04 148.56,171.96 148.16,173.21 147.34,174.11 147,174.29M146.87,174.39 146.94,174.32M147.93,165.5 144.23,165.5 143.44,169.68"><title>6×10^15</title></path>
<path aria-label="4×10^15" d="M92.68,300.5 90.72,300.5M90.72,287.61 90.17,288.17 83.56,296.68 83.62,296.79 90.06,296.79M90.72,287.61 90.72,296.79M90.06,296.79 90.06,288.74M90.06,296.79 90.72,296.79M90.06,296.79 90.06,300.5M90.72,296.79 93.99,296.79M90.72,296.79 90.72,300.5M90.06,300.5 88.09,300.5M90.06,300.5 90.72,300.5M114.95,300.5 114.95,288.17M114.95,300.5 112.33,300.5M114.95,300.5 115.61,300.5M118.23,300.5 115.61,300.5M114.95,288.17 115.61,287.61 115.61,300.5M114.95,288.17 113.59,289.41 112.33,289.98M126.79,300.3 125.43,299.88 124.17,298.13 123.47,295.03 123.47,292.97 124.12,289.98 125.43,288.12 126.79,287.71M126.79,300.3 126.96,300.35M129.31,287.76 129.2,287.66M129.31,300.3 129.47,300.24M129.47,287.76 129.31,287.71M129.47,287.76 130.67,288.12 131.93,289.87 132.63,292.97 132.63,295.03 131.98,298.02 130.67,299.88 129.47,300.24M127.07,287.61 127.34,287.5 128.76,287.5 129.2,287.66M127.07,287.61 126.96,287.71M126.96,300.3 127.07,300.39M129.31,300.24 129.2,300.35M126.85,300.24 126.09,299.88 125.38,299.21 124.78,298.07 124.12,295.03 124.12,292.97 124.78,289.98 125.43,288.74 126.09,288.12 126.85,287.76M126.79,287.71 126.96,287.66M127.07,300.39 127.4,300.5 128.76,300.5 129.2,300.35M129.41,287.81 129.96,288.07 130.67,288.74 131.33,289.98 131.98,292.97 131.98,295.03 131.33,298.07 130.72,299.21 129.96,299.93 129.41,300.19M98.6,289.5 107.7,298.5M107.7,289.5 98.6,298.5M138.26,291.5 138.26,282.96M138.26,291.5 136.68,291.5M138.26,291.5 138.66,291.5M140.24,291.5 138.66,291.5M138.26,282.96 138.66,282.57 138.66,291.5M138.26,282.96 137.44,283.82 136.68,284.21M147.04,285.68 146.94,285.64M147.04,285.68 147.76,285.93 148.56,286.79 148.95,288.04 148.95,288.96 148.56,290.21 147.76,291.07 147.04,291.32M144.2,282.93 146.25,282.93 147.89,282.57 147.93,282.5M148.16,282.5 147.93,282.5M146.94,291.36 147.04,291.32M143.8,289.79 144.2,289.36 143.8,288.93 143.41,289.36 143.41,289.82 143.77,290.61 144.27,291.11 145.36,291.5 146.61,291.5 146.87,291.39M146.87,285.61 146.61,285.5 145.36,285.5 144.2,285.93 143.48,286.71M146.87,285.61 146.94,285.68M147,285.71 147.34,285.89 148.16,286.79 148.56,288.04 148.56,288.96 148.16,290.21 147.34,291.11 147,291.29M146.87,291.39 146.94,291.32M147.93,282.5 144.23,282.5 143.44,286.68"><title>4×10^15</title></path>
<path aria-label="2×10^15" d="M84.82,406.98 85.48,407.6 84.82,408.21 84.17,407.6 84.17,406.98 84.82,405.74 85.59,405.07 87.39,404.5 90.11,404.5 90.55,404.66M90.55,404.66 90.66,404.76M88.7,411.36 90.01,410.74 91.97,409.5 92.68,408.26 92.68,406.98 92.03,405.74 91.32,405.07 90.77,404.81M88.47,411.51 88.64,411.46M93.28,415.75 93.34,414.4M86.62,415.85 89.35,416.88 91.42,416.88 92.63,416.31 93.17,415.8M93.22,415.85 92.73,416.83 92.03,417.5 89.41,417.5 86.62,415.9M88.75,411.42 90.83,410.64 92.63,409.5 93.34,408.26 93.34,406.98 92.68,405.74 92.03,405.12 90.83,404.76M86.41,415.75 86.18,415.64 84.82,415.64 84.17,416.21M86.41,415.75 86.51,415.85M84.17,416.21 84.17,415.59 84.82,413.79 86.13,412.55 88.26,411.62M84.17,416.21 84.17,417.5M88.37,411.51 88.26,411.62M90.83,404.76 90.66,404.71M114.95,417.5 114.95,405.17M114.95,417.5 112.33,417.5M114.95,417.5 115.61,417.5M118.23,417.5 115.61,417.5M114.95,405.17 115.61,404.61 115.61,417.5M114.95,405.17 113.59,406.41 112.33,406.98M126.79,417.3 125.43,416.88 124.17,415.13 123.47,412.03 123.47,409.97 124.12,406.98 125.43,405.12 126.79,404.71M126.79,417.3 126.96,417.35M129.31,404.76 129.2,404.66M129.31,417.3 129.47,417.24M129.47,404.76 129.31,404.71M129.47,404.76 130.67,405.12 131.93,406.87 132.63,409.97 132.63,412.03 131.98,415.02 130.67,416.88 129.47,417.24M127.07,404.61 127.34,404.5 128.76,404.5 129.2,404.66M127.07,404.61 126.96,404.71M126.96,417.3 127.07,417.39M129.31,417.24 129.2,417.35M126.85,417.24 126.09,416.88 125.38,416.21 124.78,415.07 124.12,412.03 124.12,409.97 124.78,406.98 125.43,405.74 126.09,405.12 126.85,404.76M126.79,404.71 126.96,404.66M127.07,417.39 127.4,417.5 128.76,417.5 129.2,417.35M129.41,404.81 129.96,405.07 130.67,405.74 131.33,406.98 131.98,409.97 131.98,412.03 131.33,415.07 130.72,416.21 129.96,416.93 129.41,417.19M98.6,406.5 107.7,415.5M107.7,406.5 98.6,415.5M138.26,408.5 138.26,399.96M138.26,408.5 136.68,408.5M138.26,408.5 138.66,408.5M140.24,408.5 138.66,408.5M138.26,399.96 138.66,399.57 138.66,408.5M138.26,399.96 137.44,400.82 136.68,401.21M147.04,402.68 146.94,402.64M147.04,402.68 147.76,402.93 148.56,403.79 148.95,405.04 148.95,405.96 148.56,407.21 147.76,408.07 147.04,408.32M144.2,399.93 146.25,399.93 147.89,399.57 147.93,399.5M148.16,399.5 147.93,399.5M146.94,408.36 147.04,408.32M143.8,406.79 144.2,406.36 143.8,405.93 143.41,406.36 143.41,406.82 143.77,407.61 144.27,408.11 145.36,408.5 146.61,408.5 146.87,408.39M146.87,402.61 146.61,402.5 145.36,402.5 144.2,402.93 143.48,403.71M146.87,402.61 146.94,402.68M147,402.71 147.34,402.89 148.16,403.79 148.56,405.04 148.56,405.96 148.16,407.21 147.34,408.11 147,408.29M146.87,408.39 146.94,408.32M147.93,399.5 144.23,399.5 143.44,403.68"><title>2×10^15</title></path>
<path aria-label="0" d="M142.41,527.3 141.22,526.88 140.12,525.13 139.51,522.03 139.51,519.97 140.08,516.98 141.22,515.12 142.41,514.71M142.41,527.3 142.55,527.35M144.6,514.76 144.5,514.66M144.6,527.3 144.74,527.24M144.74,514.76 144.6,514.71M144.74,514.76 145.79,515.12 146.88,516.87 147.5,519.97 147.5,522.03 146.93,525.02 145.79,526.88 144.74,527.24M142.65,514.61 142.89,514.5 144.12,514.5 144.5,514.66M142.65,514.61 142.55,514.71M142.55,527.3 142.65,527.39M144.6,527.24 144.5,527.35M142.46,527.24 141.79,526.88 141.17,526.21 140.65,525.07 140.08,522.03 140.08,519.97 140.65,516.98 141.22,515.74 141.79,515.12 142.46,514.76M142.41,514.71 142.55,514.66M142.65,527.39 142.93,527.5 144.12,527.5 144.5,527.35M144.69,514.81 145.17,515.07 145.79,515.74 146.36,516.98 146.93,519.97 146.93,522.03 146.36,525.07 145.83,526.21 145.17,526.93 144.69,527.19"><title>0</title></path>
<path aria-label="HD145482  B2V" d="M556.52,32.44 558.9,32.44M548.6,48.5 548.6,32.44M548.6,48.5 546.23,48.5M548.6,48.5 549.4,48.5M558.9,48.5 558.9,40.09M558.9,48.5 556.52,48.5M558.9,48.5 559.69,48.5M549.4,48.5 549.4,40.09M549.4,48.5 551.77,48.5M548.6,32.44 546.23,32.44M548.6,32.44 549.4,32.44M558.9,40.09 558.9,32.44M558.9,40.09 549.4,40.09M549.4,40.09 549.4,32.44M559.69,48.5 559.69,32.44M559.69,48.5 562.07,48.5M558.9,32.44 559.69,32.44M549.4,32.44 551.77,32.44M559.69,32.44 562.07,32.44M573.88,48.18 573.75,48.31M574.01,48.12 574.68,47.8 576.39,46.14 577.12,44.74 577.91,42.44 577.91,38.49 577.18,36.39 576.32,34.73 574.68,33.14 574.01,32.82M574.08,48.18 575.53,47.73 577.18,46.14 577.91,44.74 578.7,42.44 578.7,38.49 577.97,36.39 577.12,34.73 575.53,33.2 574.08,32.76M574.08,48.18 573.88,48.25M567.61,48.5 567.61,32.44M567.61,48.5 565.24,48.5M567.61,48.5 568.4,48.5M568.4,48.5 568.4,32.44M568.4,48.5 573.22,48.5 573.75,48.31M567.61,32.44 565.24,32.44M567.61,32.44 568.4,32.44M573.88,32.76 573.75,32.63M568.4,32.44 573.22,32.44 573.75,32.63M574.08,32.76 573.88,32.69M589,48.5 589,33.26M589,48.5 585.83,48.5M589,48.5 589.79,48.5M592.96,48.5 589.79,48.5M589,33.26 589.79,32.57 589.79,48.5M589,33.26 587.35,34.79 585.83,35.49M609.59,48.5 607.21,48.5M607.21,32.57 606.55,33.26 598.56,43.78 598.63,43.91 606.42,43.91M607.21,32.57 607.21,43.91M606.42,43.91 606.42,33.97M606.42,43.91 607.21,43.91M606.42,43.91 606.42,48.5M607.21,43.91 611.17,43.91M607.21,43.91 607.21,48.5M606.42,48.5 604.04,48.5M606.42,48.5 607.21,48.5M622.39,38.11 622.2,38.04M622.39,38.11 623.84,38.55 625.43,40.09 626.22,42.32 626.22,43.97 625.43,46.2 623.84,47.73 622.39,48.18M616.72,33.2 620.81,33.2 624.11,32.57 624.18,32.44M624.64,32.44 624.18,32.44M622.2,48.25 622.39,48.18M615.92,45.44 616.72,44.67 615.92,43.91 615.13,44.67 615.13,45.5 615.86,46.91 616.85,47.8 619.03,48.5 621.53,48.5 622.06,48.31M622.06,37.98 621.53,37.79 619.03,37.79 616.72,38.55 615.27,39.95M622.06,37.98 622.2,38.11M622.32,38.17 622.99,38.49 624.64,40.09 625.43,42.32 625.43,43.97 624.64,46.2 622.99,47.8 622.32,48.12M622.06,48.31 622.2,48.18M624.18,32.44 616.78,32.44 615.2,39.89M641.27,48.5 638.89,48.5M638.89,32.57 638.23,33.26 630.24,43.78 630.31,43.91 638.1,43.91M638.89,32.57 638.89,43.91M638.1,43.91 638.1,33.97M638.1,43.91 638.89,43.91M638.1,43.91 638.1,48.5M638.89,43.91 642.85,43.91M638.89,43.91 638.89,48.5M638.1,48.5 635.72,48.5M638.1,48.5 638.89,48.5M650.24,48.25 650.38,48.37M650.38,48.37 650.77,48.5 654,48.5 654.53,48.31M654.67,48.18 654.53,48.31M654.8,48.12 655.46,47.8 656.38,46.91 657.11,45.5 657.11,42.38 656.32,40.85 655.46,40.02 654.8,39.7M654.87,48.18 656.32,47.73 657.17,46.91 657.9,45.5 657.9,42.38 657.24,41.1 656.32,40.09 654.87,39.64M654.87,48.18 654.67,48.25M654.67,39.57 654.87,39.64M654.87,39 656.32,38.55 657.11,37.09 657.11,34.73 656.38,33.33 656.18,33.14 654.87,32.76M654.87,39 654.67,39.07M650.38,39.45 650.71,39.32M650.38,39.45 650.24,39.57M650.04,39.07 648.4,38.55 647.6,37.09 647.6,34.73 648.33,33.33 648.53,33.14 650.04,32.69M650.04,39.07 650.24,39.13M650.24,39.07 650.38,39.19M654.67,39.64 654.53,39.51M654.67,32.76 654.53,32.63M650.38,32.57 650.71,32.44 654,32.44 654.53,32.63M650.38,32.57 650.24,32.69M650.11,32.76 649.12,33.33 648.4,34.73 648.4,37.09 649.12,38.49 650.11,39M654.53,39.13 654.67,39M654.53,39.13 654,39.32M650.04,32.69 650.24,32.63M654,39.32 650.71,39.32M654,39.32 654.53,39.51M650.38,39.19 650.71,39.32M650.04,48.25 648.4,47.73 647.54,46.91 646.81,45.5 646.81,42.38 647.6,40.85 648.4,40.09 650.04,39.57M650.04,48.25 650.24,48.31M654.87,32.76 654.67,32.69M650.11,48.18 649.19,47.73 648.33,46.91 647.6,45.5 647.6,42.38 648.4,40.85 649.19,40.09 650.11,39.64M654.8,32.82 655.52,33.2 656.32,34.73 656.32,37.09 655.59,38.49 654.8,38.94M650.24,39.51 650.04,39.57M663.44,35.49 664.24,36.26 663.44,37.02 662.65,36.26 662.65,35.49 663.44,33.97 664.37,33.14 666.55,32.44 669.84,32.44 670.37,32.63M670.37,32.63 670.51,32.76M668.13,40.91 669.72,40.15 672.09,38.62 672.95,37.09 672.95,35.49 672.16,33.97 671.3,33.14 670.64,32.82M667.86,41.1 668.06,41.04M673.68,46.34 673.74,44.67M665.62,46.46 668.92,47.73 671.43,47.73 672.88,47.03 673.54,46.4M673.61,46.46 673.01,47.67 672.16,48.5 668.99,48.5 665.62,46.53M668.2,40.98 670.71,40.02 672.88,38.62 673.74,37.09 673.74,35.49 672.95,33.97 672.16,33.2 670.71,32.76M665.36,46.34 665.09,46.2 663.44,46.2 662.65,46.91M665.36,46.34 665.49,46.46M662.65,46.91 662.65,46.14 663.44,43.91 665.03,42.38 667.6,41.23M662.65,46.91 662.65,48.5M667.74,41.1 667.6,41.23M670.71,32.76 670.51,32.69M712.93,32.82 713.59,33.14 714.45,33.97 715.24,35.49 715.24,37.09 714.51,38.49 713.59,39.38 712.93,39.7M712.8,48.25 713,48.18M704.94,48.5 704.94,32.44M704.94,48.5 702.57,48.5M704.94,48.5 705.74,48.5M712.14,40.09 712.67,39.89M712.14,40.09 705.74,40.09M712.14,40.09 712.67,40.28M705.74,48.5 705.74,40.09M705.74,48.5 712.14,48.5 712.67,48.31M704.94,32.44 702.57,32.44M704.94,32.44 705.74,32.44M712.93,48.12 713.59,47.8 714.51,46.91 715.24,45.5 715.24,43.14 714.45,41.62 713.59,40.79 712.93,40.47M713,48.18 714.45,47.73 715.3,46.91 716.03,45.5 716.03,43.14 715.24,41.62 714.45,40.85 713,40.41M705.74,40.09 705.74,32.44M705.74,32.44 712.14,32.44 712.67,32.63M712.8,39.76 712.67,39.89M713,39.76 714.45,39.32 715.3,38.49 716.03,37.09 716.03,35.49 715.24,33.97 714.45,33.2 713,32.76M713,39.76 712.8,39.83M712.67,40.28 712.8,40.41M712.8,32.76 712.67,32.63M712.8,40.34 713,40.41M712.67,48.31 712.8,48.18M713,32.76 712.8,32.69M721.58,35.49 722.37,36.26 721.58,37.02 720.78,36.26 720.78,35.49 721.58,33.97 722.5,33.14 724.68,32.44 727.98,32.44 728.51,32.63M728.51,32.63 728.64,32.76M726.27,40.91 727.85,40.15 730.23,38.62 731.08,37.09 731.08,35.49 730.29,33.97 729.43,33.14 728.77,32.82M726,41.1 726.19,41.04M731.81,46.34 731.87,44.67M723.75,46.46 727.06,47.73 729.56,47.73 731.02,47.03 731.67,46.4M731.74,46.46 731.14,47.67 730.29,48.5 727.12,48.5 723.75,46.53M726.33,40.98 728.84,40.02 731.02,38.62 731.87,37.09 731.87,35.49 731.08,33.97 730.29,33.2 728.84,32.76M723.49,46.34 723.22,46.2 721.58,46.2 720.78,46.91M723.49,46.34 723.62,46.46M720.78,46.91 720.78,46.14 721.58,43.91 723.16,42.38 725.73,41.23M720.78,46.91 720.78,48.5M725.87,41.1 725.73,41.23M728.84,32.76 728.64,32.69M742.17,48.44 736.62,32.44M742.17,48.44 747.71,32.44M747.71,32.44 744.54,32.44M747.71,32.44 749.3,32.44M742.17,46.2 737.42,32.44M736.62,32.44 735.04,32.44M736.62,32.44 737.42,32.44M737.42,32.44 739.79,32.44"><title>HD145482  B2V</title></path>
<path aria-label="Wavelength, Å" d="M583.17,564.38 580.65,577.39M583.17,564.38 585.7,577.39M578.12,564.27 576.23,564.27M578.12,564.27 578.75,564.27M578.12,564.27 580.65,577.39M586.33,564.27 588.22,564.27M578.75,564.27 580.65,564.27M578.75,564.27 580.65,574.35M585.7,577.39 588.22,564.27M585.7,574.35 583.8,564.27M588.22,564.27 590.11,564.27M601.26,577.29 600.79,576.82 600.21,575.66 600.21,571.2 599.58,570.1M594.58,577.29 593.27,576.87 592.64,575.66 592.64,574.35 593.22,573.2 593.38,573.04 594.58,572.67M594.58,577.29 594.74,577.34M594.74,572.67 594.85,572.57M599.58,575.66 599.58,571.25M599.58,575.66 598.27,576.92 597.1,577.5 595.16,577.5 594.85,577.39M599.58,575.66 600.16,576.82 601.21,577.34M601.31,577.39 601.47,577.5 602.1,577.5M599.58,571.25 599.58,570.1M599.58,571.25 598.79,571.88 594.85,572.57M593.9,569.94 593.9,570.52 593.32,570.57 593.32,569.89 593.9,569.31 595.16,568.68 597.74,568.68 598.9,569.26 599.58,569.94 599.58,570.1M594.74,577.29 594.85,577.39M594.64,577.24 593.85,576.82 593.27,575.66 593.27,574.35 593.85,573.2 594.64,572.72M594.58,572.67 594.74,572.62M609.04,576.24 605.89,568.68M612.83,568.68 610.31,568.68M612.83,568.68 614.09,568.68M612.83,568.68 609.04,577.45M605.89,568.68 605.26,568.68M605.89,568.68 607.78,568.68M609.04,577.45 605.26,568.68M605.26,568.68 604,568.68M619.82,577.29 618.51,576.87 617.25,575.61 616.62,573.77 616.62,572.41 617.25,570.57 618.51,569.31 619.82,568.89M619.82,577.29 619.98,577.34M623.66,569.52 624.19,570.57 624.19,572.46M619.98,568.84 619.82,568.89M624.19,572.46 617.25,572.46M624.19,572.46 624.82,572.41 624.82,571.2 624.19,569.94 623.71,569.47M620.09,568.79 620.35,568.68 622.34,568.68 623.51,569.26 623.61,569.42M620.09,568.79 619.98,568.89M619.88,568.94 619.14,569.31 617.88,570.57 617.25,572.46M619.98,577.29 620.09,577.39M619.88,577.24 619.14,576.87 617.88,575.61 617.25,573.77 617.25,572.46M620.09,577.39 620.4,577.5 621.71,577.5 623.45,576.92 624.82,575.61M629.87,564.27 627.97,564.27M629.87,564.27 630.5,564.32 630.5,577.5M629.87,564.27 629.87,577.5M627.97,577.5 629.87,577.5M629.87,577.5 630.5,577.5M630.5,577.5 632.39,577.5M638.75,577.29 637.44,576.87 636.18,575.61 635.55,573.77 635.55,572.41 636.18,570.57 637.44,569.31 638.75,568.89M638.75,577.29 638.91,577.34M642.59,569.52 643.12,570.57 643.12,572.46M638.91,568.84 638.75,568.89M643.12,572.46 636.18,572.46M643.12,572.46 643.75,572.41 643.75,571.2 643.12,569.94 642.64,569.47M639.02,568.79 639.28,568.68 641.27,568.68 642.44,569.26 642.54,569.42M639.02,568.79 638.91,568.89M638.81,568.94 638.07,569.31 636.81,570.57 636.18,572.46M638.91,577.29 639.02,577.39M638.81,577.24 638.07,576.87 636.81,575.61 636.18,573.77 636.18,572.46M639.02,577.39 639.33,577.5 640.64,577.5 642.38,576.92 643.75,575.61M655.74,577.5 655.74,570.57 655.11,569.31 654.53,569M655.74,577.5 653.84,577.5M655.74,577.5 656.37,577.5M654.58,568.94 654.42,568.89M654.58,568.94 655.63,569.26 656.37,570.57 656.37,577.5M646.9,577.5 648.8,577.5M654.32,568.84 653.89,568.68 652.53,568.68 650.8,569.26 649.43,570.52M654.32,568.84 654.42,568.94M646.9,568.68 648.8,568.68M656.37,577.5 658.26,577.5M648.8,577.5 648.8,568.68M648.8,577.5 649.43,577.5M648.8,568.68 649.43,568.73 649.43,570.52M649.43,577.5 649.43,570.52M649.43,577.5 651.32,577.5M669.46,579.45 668.88,578.2 667.15,577.5 663.89,577.5 662.15,576.92 661.57,576.4M667.3,574.14 667.78,573.67 668.36,572.51 668.36,571.2 667.73,569.94M661.47,576.35 661.42,575.61 662.05,574.35 662.68,573.72M667.2,569.52 667.73,570.57 667.73,573.14 667.25,574.09M663.2,574.19 663.31,574.35 664.57,574.98 665.88,574.98 667.04,574.4 667.2,574.19M663.2,569.52 662.68,570.57 662.68,573.14 663.15,574.09M667.15,569.42 667.04,569.26 665.88,568.68 664.57,568.68 663.26,569.42M661.52,576.45 662,577.45 662.63,577.75M663.31,577.5 662.73,577.75M662.68,573.72 662.05,572.51 662.05,571.2 662.68,569.94 663.15,569.47M662.68,573.72 663.1,574.14M667.25,569.47 667.73,569.94M667.73,569.94 668.36,569.31 668.51,569.31M662.63,577.75 661.52,578.2 661.37,578.38 660.79,579.77 660.79,580.58 661.42,582.04 663.26,582.79 667.15,582.79 668.88,582.1 669.04,581.98 669.62,580.58 669.62,579.77 669.51,579.58M668.51,569.31 669.51,568.73 669.62,568.79 669.57,569.31 668.51,569.31M662.73,577.75 663.89,578.26 667.15,578.26 668.88,578.95 669.41,579.52M676.35,577.29 675.88,576.76 675.3,575.03 675.3,568.68M674.67,564.27 674.67,568.68M675.3,568.68 675.3,564.27M675.3,568.68 674.67,568.68M675.3,568.68 677.82,568.68M672.77,568.68 674.67,568.68M676.29,577.34 675.25,576.76 674.67,575.03 674.67,568.68M679.72,575.61 679.03,576.92 677.87,577.5 676.56,577.5 676.4,577.39M693.6,577.5 691.7,577.5M691.07,577.5 691.07,570.57 690.44,569.31 689.86,569M691.07,577.5 689.18,577.5M691.07,577.5 691.7,577.5M689.92,568.94 689.76,568.89M689.92,568.94 690.97,569.26 691.7,570.57 691.7,577.5M684.13,564.27 682.24,564.27M684.13,564.27 684.76,564.32 684.76,570.52M684.13,564.27 684.13,577.5M689.65,568.84 689.23,568.68 687.87,568.68 686.13,569.26 684.76,570.52M689.65,568.84 689.76,568.94M684.13,577.5 682.24,577.5M684.13,577.5 684.76,577.5M684.76,577.5 684.76,570.52M684.76,577.5 686.66,577.5M698.01,577.5 697.38,576.87 698.01,576.24 698.65,576.87 698.65,578.32 698.06,579.71 697.38,580.52M714.42,573.72 717.58,564.32M714.42,573.72 720.1,573.72M714.42,573.72 713.16,577.5M721.36,577.5 720.1,573.72M721.36,577.5 719.47,577.5M721.36,577.5 721.99,577.5M717.58,566.16 720.1,573.72M723.25,577.5 721.99,577.5M715.68,577.5 713.16,577.5M717.58,564.32 721.99,577.5M713.16,577.5 711.9,577.5M719.78,560.97 719.55,561.82 718.93,562.44 718.08,562.67 717.23,562.44 716.6,561.82 716.38,560.97 716.6,560.12 717.23,559.5 718.08,559.27 718.93,559.5 719.55,560.12 719.78,560.97"><title>Wavelength, Å</title></path>
<path aria-label="Relative flux" d="M51.83,353.51 52.11,352.97 52.83,352.29 54.16,351.65 55.55,351.65 56.78,352.24 57.55,352.97 57.83,353.51M58.94,354.78 58.78,354.88 58.16,355.95M65.5,359.92 51.49,359.92M65.5,359.92 65.5,361.83M65.5,359.92 65.5,359.28M59.05,354.72 60.28,354.15 64.83,352.92 65.5,352.29 65.5,351.02 64.39,350.49M65.5,359.28 58.16,359.28M65.5,359.28 65.5,357.38M51.49,359.92 51.49,361.83M51.49,359.92 51.49,359.28M58.16,359.28 51.49,359.28M58.16,359.28 58.16,355.95M51.49,359.28 51.49,354.15 51.66,353.72M57.88,353.61 58,353.72M64.33,350.54 64.83,351.02 64.83,351.65 64.17,352.29 59.83,354.04 59,354.67M57.88,353.45 57.5,352.29 56.78,351.6 55.55,351.02 54.16,351.02 52.83,351.65 52.16,352.29 51.77,353.45M57.88,353.45 57.94,353.61M64.28,350.43 63.5,350.38M51.77,353.61 51.66,353.72M51.77,353.45 51.71,353.61M58.16,355.95 58.16,354.15 58,353.72M65.28,343.97 64.83,345.29 63.5,346.56 61.55,347.2 60.11,347.2 58.16,346.56 56.83,345.29 56.38,343.97M65.28,343.97 65.33,343.81M57.05,340.1 58.16,339.57 60.16,339.57M56.33,343.81 56.38,343.97M60.16,339.57 60.16,346.56M60.16,339.57 60.11,338.93 58.83,338.93 57.5,339.57 57,340.05M56.28,343.7 56.16,343.43 56.16,341.43 56.78,340.25 56.94,340.15M56.28,343.7 56.38,343.81M56.44,343.91 56.83,344.66 58.16,345.93 60.16,346.56M65.28,343.81 65.39,343.7M65.22,343.91 64.83,344.66 63.5,345.93 61.55,346.56 60.16,346.56M65.39,343.7 65.5,343.38 65.5,342.06 64.89,340.31 63.5,338.93M51.49,333.84 51.49,335.75M51.49,333.84 51.55,333.21 65.5,333.21M51.49,333.84 65.5,333.84M65.5,335.75 65.5,333.84M65.5,333.84 65.5,333.21M65.5,333.21 65.5,331.3M65.28,319.43 64.78,319.9 63.55,320.49 58.83,320.49 57.66,321.12M65.28,326.16 64.83,327.48 63.55,328.12 62.16,328.12 60.94,327.53 60.78,327.38 60.38,326.16M65.28,326.16 65.33,326M60.38,326 60.28,325.89M63.55,321.12 58.88,321.12M63.55,321.12 64.89,322.45 65.5,323.62 65.5,325.58 65.39,325.89M63.55,321.12 64.78,320.54 65.33,319.48M65.39,319.38 65.5,319.22 65.5,318.58M58.88,321.12 57.66,321.12M58.88,321.12 59.55,321.92 60.28,325.89M57.5,326.85 58.11,326.85 58.16,327.43 57.44,327.43 56.83,326.85 56.16,325.58 56.16,322.98 56.78,321.81 57.5,321.12 57.66,321.12M65.28,326 65.39,325.89M65.22,326.1 64.78,326.9 63.55,327.48 62.16,327.48 60.94,326.9 60.44,326.1M60.38,326.16 60.33,326M65.28,312.43 64.72,312.91 62.89,313.49 56.16,313.49M51.49,314.13 56.16,314.13M56.16,313.49 51.49,313.49M56.16,313.49 56.16,314.13M56.16,313.49 56.16,310.95M56.16,316.04 56.16,314.13M65.33,312.49 64.72,313.54 62.89,314.13 56.16,314.13M63.5,309.04 64.89,309.73 65.5,310.9 65.5,312.22 65.39,312.38M65.5,306.5 65.5,304.59M56.16,306.5 56.16,304.59M65.5,304.59 56.16,304.59M65.5,304.59 65.5,303.95M56.16,304.59 56.22,303.95 65.5,303.95M65.5,303.95 65.5,302.04M51.77,304.86 51.49,304.59 52.16,303.95 52.83,304.59 52.16,305.22 51.77,304.86M64.17,295.05 56.16,298.23M56.16,291.23 56.16,293.78M56.16,291.23 56.16,289.96M56.16,291.23 65.45,295.05M56.16,298.23 56.16,298.86M56.16,298.23 56.16,296.32M65.45,295.05 56.16,298.86M56.16,298.86 56.16,300.14M65.28,284.19 64.83,285.51 63.5,286.78 61.55,287.42 60.11,287.42 58.16,286.78 56.83,285.51 56.38,284.19M65.28,284.19 65.33,284.03M57.05,280.31 58.16,279.78 60.16,279.78M56.33,284.03 56.38,284.19M60.16,279.78 60.16,286.78M60.16,279.78 60.11,279.15 58.83,279.15 57.5,279.78 57,280.26M56.28,283.92 56.16,283.65 56.16,281.64 56.78,280.47 56.94,280.37M56.28,283.92 56.38,284.03M56.44,284.13 56.83,284.87 58.16,286.14 60.16,286.78M65.28,284.03 65.39,283.92M65.22,284.13 64.83,284.87 63.5,286.14 61.55,286.78 60.16,286.78M65.39,283.92 65.5,283.6 65.5,282.28 64.89,280.53 63.5,279.15M56.16,263.25 53.49,263.25 52.16,262.61 51.71,262.19M56.16,263.25 56.16,263.88M56.16,263.25 56.16,260.7M56.16,263.25 65.5,263.25M65.5,265.79 65.5,263.88M51.66,262.24 52.27,263.3 53.49,263.88 56.16,263.88M56.16,265.79 56.16,263.88M52.16,260.7 52.83,261.34 53.49,260.7 52.83,260.07 52.16,260.07 51.49,260.7 51.49,261.98 51.61,262.13M65.5,263.88 56.16,263.88M65.5,263.88 65.5,263.25M65.5,263.25 65.5,261.34M51.49,255.62 51.49,257.52M51.49,255.62 51.55,254.98 65.5,254.98M51.49,255.62 65.5,255.62M65.5,257.52 65.5,255.62M65.5,255.62 65.5,254.98M65.5,254.98 65.5,253.07M65.28,246.66 64.83,247.98 63.55,248.62 56.16,248.62M65.28,246.66 65.33,246.5M63.55,241.62 56.16,241.62M63.55,241.62 64.89,243 65.5,244.75 65.5,246.08 65.39,246.39M63.55,241.62 65.45,241.62 65.5,240.99M56.16,243.53 56.16,241.62M56.16,241.62 56.22,240.99 65.5,240.99M56.16,250.53 56.16,248.62M65.28,246.5 65.39,246.39M65.5,240.99 65.5,239.08M65.22,246.6 64.78,247.4 63.55,247.98 56.22,247.98 56.16,248.62M56.16,232.72 56.16,234.58M65.5,227.68 60.66,231.29M65.5,227.68 65.5,228.32M65.5,227.68 65.5,226.36M56.16,226.36 56.16,227.68M65.5,236.54 65.5,235.21M56.16,235.21 56.16,236.54M56.16,235.21 56.16,234.58M56.16,235.21 61,231.61M65.5,230.18 65.5,228.32M61,231.61 60.66,231.29M60.61,231.29 56.16,234.58M60.61,231.29 56.16,227.68M65.5,232.72 65.5,235.21M56.16,227.68 56.16,230.18M65.5,235.21 61.05,231.61M65.5,228.32 61.05,231.61"><title>Relative flux</title></path>
</g>
<path class="cv c1" shape-rendering="crispEdges" d="M157,181 158,180.42 159,179.85 160,179.95 161.25,179.17 162.5,179.44 163.5,179.25 164.5,178.92 165.5,179.35 166.5,178.86 167.5,179.23 168.55,178.79 169.6,178.74 170.65,179 171.7,179.33 172.7,178.68 173.7,178.84 174.7,179.31 175.7,179.69 176.7,179.38 177.8,178.66 178.9,178.71 180,177.25 181.25,177.31 182.5,175.99 183.4,174.84 184.2,178.32 184.8,182.21 185.75,183.97 186.7,184.58 187.9,186.38 188.95,185.94 190,185.17 190.85,184.55 191.7,183.26 192.5,182.51 193.3,181.91 194,185.48 195.4,188.18 196.32,188.06 197.24,188.34 198.16,188.2 199.08,188.05 200,188.54 201.25,186.8 202.19,186.54 203.12,187.07 204.06,187.23 205,187.78 206.05,186.58 207.1,185.09 208.15,185.18 209.2,183.72 210.45,183.59 211.7,183.51 212.72,183.21 213.75,183.86 214.78,183.73 215.8,184.67 217.1,188.96 218.3,189.57 219,194.88 219.9,194.81 220.8,195.7 221.7,196.09 222.5,196.38 223.3,196.56 224.35,195.89 225.4,194.94 226.25,198.22 227.28,200.49 228.3,201.96 229.2,200.1 230.22,199.45 231.25,199.19 232.23,198.46 233.22,197.35 234.2,196.89 235,195.72 235.8,193.62 236.93,194.46 238.07,194.57 239.2,194.92 240.3,195.16 241.4,196.17 242.5,195.83 243.55,196.97 244.6,198.14 245.65,196.55 246.7,193.68 247.67,193.48 248.63,193.02 249.6,192.78 250.85,194.17 252.1,195.66 253.07,196.21 254.03,197.48 255,198.56 256.25,199.88 257.5,200.76 258.55,198.93 259.6,197.93 260.65,199.46 261.7,200.93 262.8,201.52 263.9,201.96 265,201.96 266.05,201.85 267.1,202.42 268.15,202.52 269.2,202.87 270,203.9 270.8,204.29 272.1,206.82 273.03,206.87 273.95,206.88 274.88,206.2 275.8,207 276.93,207.01 278.07,207.24 279.2,207.3 280,206.04 280.8,205.2 281.93,204.9 283.07,205.43 284.2,204.86 285.23,205.22 286.25,205.71 287.5,207.66 288.5,207.8 289.5,207.47 290.5,207.38 291.5,207.49 292.5,207.4 293.47,207.53 294.43,207.06 295.4,207.77 296.45,208.56 297.5,209.15 298.55,210.9 299.6,212.65 300.65,213.31 301.7,213.72 302.73,213.4 303.75,212.49 304.77,210.52 305.8,209.08 306.55,207.84 307.3,207 308.25,208.49 309.2,209.66 310.3,210.8 311.4,210.69 312.5,211.12 313.6,211.92 314.7,211.36 315.8,210.85 316.78,210.68 317.77,209.59 318.75,209.53 319.77,211.63 320.8,213.16 321.93,214.53 323.07,215.63 324.2,217.27 325.23,217.54 326.25,218.62 327.27,218.86 328.3,219.58 329.22,219.51 330.14,219.78 331.06,220.75 331.98,221.3 332.9,221.55 333.82,221.25 334.74,221 335.66,220.66 336.58,219.89 337.5,219.92 338.55,219.56 339.6,219.03 340.65,218.83 341.7,218.88 342.67,218.29 343.63,218.16 344.6,217.86 345.7,217.35 346.8,217.84 347.9,217.89 348.75,218.71 349.6,218.96 350,218.72 351.05,218.43 352.1,218.1 353.15,217.8 354.2,217.92 355.45,219.05 356.7,219.84 357.73,220.65 358.75,222 359.77,223.32 360.8,223.78 361.78,224.36 362.77,224.61 363.75,224.48 364.73,224.45 365.72,224.18 366.7,223.88 367.7,224.52 368.7,224.09 369.7,224.59 370.7,224.79 371.7,224.25 372.7,224.28 373.7,224.86 374.7,224.66 375.7,224.14 376.7,224.13 377.73,224.35 378.75,225.3 379.77,225.41 380.8,224.95 381.93,226.46 383.07,227.45 384.2,227.96 385.3,229.78 386.4,232.12 387.5,233.83 388.75,232.61 390,232.47 391.25,231.3 392.5,230.33 393.55,231.36 394.6,231.48 395.65,232.55 396.7,233.13 397.8,231.98 398.9,231.49 400,230.99 400.94,230.89 401.88,231.19 402.81,230.81 403.75,230.92 404.69,230.58 405.62,231.31 406.56,230.7 407.5,230.76 408.55,231.31 409.6,232.05 410.65,232 411.7,232.92 412.67,232.13 413.63,231.8 414.6,231.42 415.57,230.55 416.53,230.61 417.5,229.98 418.55,230.23 419.6,231.45 420.65,231.25 421.7,231.97 422.73,232.35 423.75,232.31 424.77,232.2 425.8,232.52 426.93,233.22 428.07,234.12 429.2,234.11 430,237.46 430.8,240.05 431.7,235.98 432.7,236.73 433.7,236.73 434.7,237.04 435.7,237.5 436.7,237.91 437.7,237.58 438.7,237.89 439.7,237.93 440.7,238.07 441.7,238.39 442.7,238.51 443.7,238.95 444.7,239.26 445.7,240.08 446.7,240.2 447.8,240.21 448.9,240.11 450,239.26 451,239.4 452,239.62 453,239.36 454,238.5 455,238.32 456.04,238.64 457.07,238.27 458.11,238.44 459.15,238.27 460.19,238.87 461.23,238.98 462.26,239.1 463.3,238.35 464.43,239.85 465.57,240.73 466.7,241.14 467.8,242.45 468.9,243.1 470,242.92 471,243.57 472,242.94 473,242.95 474,243.37 475,243.13 476.04,242.61 477.07,243.03 478.11,243.27 479.15,243.24 480.19,243.25 481.23,243.52 482.26,244.07 483.3,243.52 484.35,243.97 485.4,243.77 486.45,243.26 487.5,243.48 488.55,243.69 489.6,243.49 490.65,242.95 491.7,243.79 492.64,243.65 493.59,243.89 494.53,243.08 495.47,243.29 496.41,243.13 497.36,243.92 498.3,243.47 499.43,244.16 500.57,245.29 501.7,246.61 502.73,247.54 503.75,248.01 504.77,248.92 505.8,250.72 506.85,250.67 507.9,251.1 508.95,250.79 510,251.06 511.04,251.75 512.08,251.55 513.11,251.26 514.15,252.19 515.19,251.95 516.22,252.18 517.26,251.52 518.3,252.36 519.39,251.41 520.48,252.04 521.57,251.47 522.66,251.2 523.75,251.25 525,256.63 525.85,256.77 526.7,257.43 527.9,258.83 529,257.14 529.6,251.61 530.4,249.96 531.37,249.72 532.33,249.74 533.3,249.71 534.35,249.81 535.4,250.36 536.45,249.99 537.5,250.3 538.75,251.03 540,252.25 541.25,252.77 542.5,253.85 543.75,254.87 545,256.83 545.85,256.95 546.7,256.89 547.8,256.91 548.9,257.1 550,256.01 550.96,256.73 551.91,256.36 552.87,256.44 553.83,256.79 554.79,256.36 555.74,256.49 556.7,256.69 557.7,257.18 558.7,256.74 559.7,257.43 560.7,257.51 561.7,257.64 562.67,257.24 563.63,257.01 564.6,256.55 565.57,256.46 566.53,256.24 567.5,256.74 568.55,256.93 569.6,257.51 570.65,258.11 571.7,259.54 572.8,259.94 573.9,260.1 575,260.08 576,260.04 577,260.09 578,260.26 579,259.96 580,260.25 581.25,261.76 582.5,264.16 583.6,265.01 584.7,265.41 585.8,265.94 586.8,266.39 587.8,265.45 588.8,265.22 589.8,264.58 590.8,264.68 592.05,263.97 593.3,263.2 594.3,262.76 595.3,262.92 596.3,262.28 597.3,262.4 598.3,262.09 599.35,263.32 600.4,263.89 601.45,264.8 602.5,266 603.5,265.59 604.5,265.61 605.5,265.21 606.5,265.09 607.5,264.66 608.54,264.68 609.58,264.8 610.61,264.28 611.65,264.18 612.69,264.8 613.72,263.92 614.76,264.46 615.8,264.34 617.05,264.74 618.3,266.54 619.55,268.64 620.8,270.43 622.05,272.48 623.3,274.51 624.55,273.84 625.8,274.22 626.93,273.07 628.07,272.27 629.2,271.1 630.3,270.59 631.4,269.82 632.5,269.59 633.5,269.28 634.5,269.19 635.5,268.63 636.5,268.33 637.5,268.33 638.5,268.46 639.5,268.1 640.5,268.74 641.5,268.36 642.5,268.33 643.6,268.76 644.7,269.25 645.8,269.49 647.05,271.1 648.3,274 649.15,276.05 650,277.9 651.25,278.14 652.5,278.46 653.35,276.42 654.2,275.64 655,274.1 655.8,272.87 656.93,273.03 658.07,273.46 659.2,272.91 659.6,279.74 659.8,288.38 660,279.49 660.8,275.28 662.05,276.43 663.3,277.68 664.35,276.72 665.4,275.52 666.37,274.99 667.33,273.88 668.3,273.4 669.35,273.39 670.4,273.77 671.45,273.22 672.5,273.37 673.55,273.24 674.6,273.71 675.65,274.34 676.7,275.17 677.67,275.4 678.63,275.59 679.6,275.42 680.57,275.85 681.53,276.01 682.5,276.22 683.75,278.82 685,283.69 686.05,284.7 687.1,287.18 687.92,285.89 688.75,283.72 689.58,282.26 690.4,280.72 691.45,279.82 692.5,278.25 693.75,277.27 695,276.41 696.05,277.17 697.1,276.46 698.15,276.86 699.2,276.44 700,278.42 700.8,280.45 702.05,280.38 703.3,281.82 704.3,281.37 705.3,281.61 706.3,281.28 707.3,280.67 708.3,281.2 709.35,280.84 710.4,280.44 711.45,280.47 712.5,281.02 713.55,281.03 714.6,280.94 715.65,280.83 716.7,281.09 717.64,281 718.59,281.46 719.53,280.56 720.47,281.24 721.41,281.27 722.36,280.48 723.3,281.23 724.15,281.76 725,282.7 725.97,282.09 726.93,282.17 727.9,282.19 728.87,282.8 729.83,282.39 730.8,282.16 731.65,283.58 732.5,284.78 733.75,290.35 734.58,293.35 735.4,297.03 736.25,297.94 737.1,300.04 738.3,294.75 739.6,290.17 740.65,289.46 741.7,288.19 742.8,288.61 743.9,289.42 745,289.58 746,289.25 747,288.81 748,288.83 749,288.6 750,287.95 751.1,288.39 752.2,287.98 753.3,288.93 754.43,289.18 755.57,290.02 756.7,290.44 757.8,289.72 758.9,289.12 760,289.63 761.25,287.48 762.5,286.47 763.55,286.17 764.6,285.95 765.65,286.21 766.7,286.28 767.73,285.74 768.75,286.31 769.77,286.13 770.8,286.56 771.9,287.49 773,288.37 774.2,294.16 775.5,298.41 776.35,297.41 777.2,295.3 777.95,292.52 778.7,290.71 779.75,290.55 780.8,289.75 781.93,290.01 783.07,290.63 784.2,291.09 785.3,292.08 786.4,292.56 787.5,293.44 788.5,293.28 789.5,293.41 790.5,293.55 791.5,293.23 792.5,292.71 793.46,292.67 794.41,292.74 795.37,292.55 796.33,292.47 797.29,292.15 798.24,292.32 799.2,292.97 800.45,292.98 801.7,294.2 802.5,296.98 803.3,299.86 804.15,303.82 805,308.47 805.85,310.95 806.7,313.6 808,311.95 809.2,303.25 810,299.4 810.8,295.67 812.05,294.02 813.3,293.23 814.3,293.81 815.3,293.9 816.3,293.37 817.3,293.39 818.3,292.7 819.3,293.19 820.3,293.83 821.3,293.83 822.3,293.96 823.3,294.17 824.43,294.28 825.57,294.98 826.7,295.85 827.73,297.05 828.75,298.03 829.77,299.12 830.8,299.72 831.85,299.85 832.9,300.16 833.95,300.06 835,300.35 836.25,298.59 837.5,298.08 838.47,297.4 839.43,297.95 840.4,297.55 841.37,297.07 842.33,296.76 843.3,296.75 844.26,297.06 845.21,297.06 846.17,296.4 847.13,296.28 848.09,296.67 849.04,296.65 850,296.39 850.97,296.11 851.93,296.37 852.9,295.66 853.87,295.83 854.83,295.88 855.8,296.26 856.85,296.37 857.9,297.03 858.95,297.05 860,297.23 861,297.39 862,298.24 863,298.12 864,297.87 865,297.72 866,298.8 867,299.57 868,299.92 869,300.36 870,301.37 871.1,302.46 872.2,302.59 873.3,303.23 874.43,303.07 875.57,302.69 876.7,302.48 877.64,301.91 878.59,302.43 879.53,302.28 880.47,301.96 881.41,301.58 882.36,302.26 883.3,301.51 884.35,302 885.4,301.38 886.45,301.35 887.5,301.86 888.55,301.37 889.6,302 890.65,301.52 891.7,301.19 892.67,300.94 893.63,300.85 894.6,300.82 895.57,300.82 896.53,299.73 897.5,299.69 898.35,300.36 899.2,301.97 900.45,301.99 901.7,302.75 902.95,300.91 904.2,299.39 905,299.75 905.8,299.58"/>
<path class="cv c1" shape-rendering="crispEdges" d="M157,182 158,181.83 159,181.7 160,181.23 161.25,180.43 162.5,180.09 163.5,180.82 164.5,180.61 165.5,179.87 166.5,180.48 167.5,180.18 168.55,180.1 169.6,179.98 170.65,179.74 171.7,179.5 172.7,179.84 173.7,179.97 174.7,180.64 175.7,179.86 176.7,180.76 177.8,179.47 178.9,179.09 180,179.02 181.25,178.27 182.5,177.13 183.4,175.75 184.2,179.67 184.8,183.27 185.75,185.07 186.7,185.59 187.9,187.16 188.95,187.2 190,185.83 190.85,185.41 191.7,185.01 192.5,184.22 193.3,182.74 194,185.83 195.4,188.81 196.32,189.67 197.24,189.01 198.16,189.5 199.08,189.65 200,189.09 201.25,187.37 202.19,188.26 203.12,188.12 204.06,187.96 205,188.62 206.05,187.17 207.1,186.08 208.15,185.2 209.2,185.36 210.45,185.09 211.7,184.38 212.72,185.01 213.75,184.4 214.78,184.92 215.8,185.48 217.1,190.16 218.3,190.95 219,195.39 219.9,195.75 220.8,196.43 221.7,196.99 222.5,197.73 223.3,197.28 224.35,196.85 225.4,195.74 226.25,199.57 227.28,201.6 228.3,203.51 229.2,200.73 230.22,200.12 231.25,199.56 232.23,199.42 233.22,198.15 234.2,197.7 235,196.8 235.8,194.85 236.93,195.06 238.07,195.43 239.2,196.35 240.3,196.43 241.4,197.38 242.5,197.58 243.55,198.71 244.6,199.01 245.65,196.76 246.7,194.7 247.67,194.53 248.63,194.18 249.6,193.35 250.85,194.58 252.1,196.22 253.07,197.55 254.03,198.74 255,199.95 256.25,200.85 257.5,201.46 258.55,199.9 259.6,199.59 260.65,200.52 261.7,202.27 262.8,202.41 263.9,203.1 265,202.9 266.05,203.1 267.1,203.25 268.15,203.3 269.2,204.18 270,204.53 270.8,204.93 272.1,207.7 273.03,208.24 273.95,207.71 274.88,207.38 275.8,207.91 276.93,207.89 278.07,208.36 279.2,207.6 280,207.12 280.8,206.62 281.93,206.64 283.07,206.71 284.2,205.84 285.23,206.44 286.25,206.62 287.5,208.69 288.5,209.43 289.5,209 290.5,209.31 291.5,208.71 292.5,209.17 293.47,208.62 294.43,208.29 295.4,208.68 296.45,209.9 297.5,210.11 298.55,212.25 299.6,213.92 300.65,214.17 301.7,214.97 302.73,213.69 303.75,212.7 304.77,211.3 305.8,210.2 306.55,209.4 307.3,208.1 308.25,209.16 309.2,210.73 310.3,211.64 311.4,211.72 312.5,212.41 313.6,212.17 314.7,212.63 315.8,212.25 316.78,211.2 317.77,210.67 318.75,210.4 319.77,212.2 320.8,213.94 321.93,214.92 323.07,216.53 324.2,218.6 325.23,218.78 326.25,219.13 327.27,219.63 328.3,220.75 329.22,220.49 330.14,221.13 331.06,221.3 331.98,221.74 332.9,222.56 333.82,222.44 334.74,221.54 335.66,221.12 336.58,221.39 337.5,220.6 338.55,220.21 339.6,220.9 340.65,220.22 341.7,220.42 342.67,219.44 343.63,219.35 344.6,218.36 345.7,218.06 346.8,217.91 347.9,218.45 348.75,219.39 349.6,220.51 350,219.59 351.05,219.82 352.1,219.27 353.15,219.1 354.2,218.45 355.45,219.43 356.7,220.52 357.73,222.1 358.75,222.46 359.77,224.02 360.8,225.5 361.78,225.67 362.77,224.9 363.75,224.83 364.73,225.64 365.72,225.68 366.7,225.18 367.7,224.78 368.7,225.69 369.7,225.18 370.7,225.72 371.7,225.47 372.7,225.7 373.7,225.07 374.7,225.73 375.7,225.19 376.7,225.4 377.73,226.05 378.75,226.23 379.77,225.78 380.8,226.02 381.93,227.03 383.07,227.98 384.2,228.68 385.3,230.56 386.4,232.81 387.5,235.42 388.75,234.5 390,232.54 391.25,232.21 392.5,231.56 393.55,231.46 394.6,232.89 395.65,232.79 396.7,233.9 397.8,233.32 398.9,232.86 400,232.01 400.94,232.07 401.88,232.18 402.81,231.98 403.75,232.16 404.69,231.9 405.62,231.84 406.56,231.37 407.5,231.92 408.55,232.21 409.6,232.39 410.65,233.34 411.7,233.78 412.67,233.09 413.63,232.45 414.6,232.37 415.57,231.64 416.53,231.3 417.5,231.23 418.55,231.32 419.6,232.09 420.65,232.59 421.7,232.54 422.73,233.26 423.75,232.83 424.77,233.61 425.8,233.78 426.93,234.18 428.07,234.39 429.2,235.5 430,238.28 430.8,241.75 431.7,236.84 432.7,237.82 433.7,238.22 434.7,238.21 435.7,238.55 436.7,238.19 437.7,239.12 438.7,238.77 439.7,239.38 440.7,239.48 441.7,238.87 442.7,239.85 443.7,240.35 444.7,239.85 445.7,240.49 446.7,241.26 447.8,240.49 448.9,241.06 450,240.27 451,240.66 452,239.82 453,240.02 454,240.28 455,239.41 456.04,239.46 457.07,239.71 458.11,239.52 459.15,239.24 460.19,239.38 461.23,239.36 462.26,240.14 463.3,239.88 464.43,241.03 465.57,241.24 466.7,242.78 467.8,242.68 468.9,243.66 470,244.34 471,243.98 472,244.41 473,244.02 474,243.96 475,244.18 476.04,243.55 477.07,244.59 478.11,244.38 479.15,244.29 480.19,244.85 481.23,244.46 482.26,245.34 483.3,245.08 484.35,244.77 485.4,245.09 486.45,244.68 487.5,244.33 488.55,244.81 489.6,244.02 490.65,244.71 491.7,244.05 492.64,244.5 493.59,244.9 494.53,244.56 495.47,244.69 496.41,244.4 497.36,244.14 498.3,244.23 499.43,245.18 500.57,246.48 501.7,247.13 502.73,248.24 503.75,249.65 504.77,249.91 505.8,251.03 506.85,251.75 507.9,251.42 508.95,251.7 510,252.35 511.04,252.17 512.08,252.48 513.11,252.41 514.15,252.83 515.19,252.9 516.22,252.58 517.26,253.06 518.3,252.97 519.39,252.47 520.48,253.12 521.57,252.26 522.66,252.01 523.75,251.8 525,257.34 525.85,258.37 526.7,259.08 527.9,259.7 529,258.16 529.6,252.51 530.4,251.44 531.37,251.23 532.33,250.88 533.3,251.05 534.35,250.94 535.4,251.54 536.45,251.43 537.5,251.05 538.75,252.75 540,252.94 541.25,254.28 542.5,255.01 543.75,256.09 545,257.16 545.85,258.18 546.7,257.71 547.8,257.98 548.9,258.11 550,257.04 550.96,257.11 551.91,257.54 552.87,257.45 553.83,257.6 554.79,257.78 555.74,257.16 556.7,257.31 557.7,257.5 558.7,257.45 559.7,258.49 560.7,258.58 561.7,258.72 562.67,257.84 563.63,258.51 564.6,258.25 565.57,257.8 566.53,257.91 567.5,257.45 568.55,257.9 569.6,258.46 570.65,259.26 571.7,259.74 572.8,260.4 573.9,261.18 575,261.5 576,261.65 577,261.51 578,261.07 579,261.35 580,261.24 581.25,263.29 582.5,264.72 583.6,265.3 584.7,266.51 585.8,267.67 586.8,266.64 587.8,267.02 588.8,265.88 589.8,265.84 590.8,265.54 592.05,265.24 593.3,264.64 594.3,264.31 595.3,263.75 596.3,264.16 597.3,263.47 598.3,263.24 599.35,264.83 600.4,265.48 601.45,266.47 602.5,267.37 603.5,267.34 604.5,266.49 605.5,266.52 606.5,266.04 607.5,265.86 608.54,265.4 609.58,265.65 610.61,265.46 611.65,265.16 612.69,265.02 613.72,265.4 614.76,264.82 615.8,265.61 617.05,265.84 618.3,266.73 619.55,268.86 620.8,271.73 622.05,273.09 623.3,274.84 624.55,274.73 625.8,274.74 626.93,274.26 628.07,273.07 629.2,272 630.3,271.5 631.4,270.3 632.5,270.29 633.5,269.96 634.5,270.32 635.5,270.22 636.5,270.19 637.5,269.27 638.5,269.97 639.5,269.91 640.5,269.84 641.5,268.91 642.5,268.91 643.6,269.25 644.7,269.6 645.8,270.85 647.05,272.91 648.3,274.83 649.15,277.13 650,279.03 651.25,278.89 652.5,278.9 653.35,277.45 654.2,276.66 655,275.05 655.8,274.12 656.93,274.19 658.07,273.75 659.2,273.96 659.6,280.28 659.8,289.12 660,280.37 660.8,276.22 662.05,277.91 663.3,278.5 664.35,277.8 665.4,276.52 666.37,275.38 667.33,275.21 668.3,274.69 669.35,274.91 670.4,274.37 671.45,274.62 672.5,274.34 673.55,274.44 674.6,275.51 675.65,275.17 676.7,276.32 677.67,275.88 678.63,275.92 679.6,276.33 680.57,277.1 681.53,277.52 682.5,276.75 683.75,280.19 685,284.29 686.05,286.3 687.1,287.38 687.92,286.44 688.75,285.05 689.58,283.63 690.4,281.16 691.45,280.79 692.5,279.08 693.75,278.21 695,277.9 696.05,277.72 697.1,277.36 698.15,277.91 699.2,277.38 700,279.69 700.8,281.2 702.05,282.04 703.3,282.63 704.3,282.22 705.3,282.12 706.3,281.97 707.3,282.33 708.3,281.39 709.35,282.24 710.4,281.44 711.45,281.67 712.5,281.79 713.55,282.48 714.6,282.14 715.65,282.07 716.7,282.63 717.64,281.92 718.59,282.08 719.53,282.09 720.47,282.25 721.41,282.18 722.36,282.01 723.3,281.65 724.15,282.38 725,282.96 725.97,283.64 726.93,283.46 727.9,283.54 728.87,282.97 729.83,283.24 730.8,283.57 731.65,284.73 732.5,285.63 733.75,291.76 734.58,295.14 735.4,297.44 736.25,298.84 737.1,300.4 738.3,296.2 739.6,291.74 740.65,290.1 741.7,289.16 742.8,289.48 743.9,289.79 745,290.22 746,289.6 747,289.51 748,289.11 749,289.64 750,289.13 751.1,288.77 752.2,289.9 753.3,289.3 754.43,290.12 755.57,291.25 756.7,291.59 757.8,291.17 758.9,290.5 760,289.9 761.25,288.99 762.5,287.11 763.55,287.03 764.6,287.04 765.65,286.51 766.7,286.7 767.73,287.27 768.75,287.34 769.77,287.33 770.8,287.63 771.9,288.56 773,289.34 774.2,295.6 775.5,299.6 776.35,298.24 777.2,296.71 777.95,293.73 778.7,291.37 779.75,291.3 780.8,290.72 781.93,291.1 783.07,292.16 784.2,292.88 785.3,293.51 786.4,294.17 787.5,295.05 788.5,294.7 789.5,294.48 790.5,294.11 791.5,293.79 792.5,293.93 793.46,293.36 794.41,293.63 795.37,293.95 796.33,293.84 797.29,293.72 798.24,293.29 799.2,293.42 800.45,294.31 801.7,295.32 802.5,297.76 803.3,300.68 804.15,305.53 805,309.38 805.85,312.35 806.7,314.98 808,312.89 809.2,303.79 810,300.52 810.8,295.84 812.05,295.54 813.3,294.36 814.3,294.88 815.3,294.94 816.3,294.42 817.3,293.9 818.3,294.27 819.3,294.34 820.3,294.62 821.3,294.51 822.3,294.74 823.3,295.03 824.43,295.56 825.57,296.28 826.7,297.65 827.73,297.74 828.75,299.03 829.77,299.57 830.8,300.76 831.85,300.32 832.9,301.38 833.95,300.96 835,300.86 836.25,299.82 837.5,298.7 838.47,298.18 839.43,298.45 840.4,298.32 841.37,298.46 842.33,297.99 843.3,297.77 844.26,297.65 845.21,298.1 846.17,298.23 847.13,297.74 848.09,297.36 849.04,297.87 850,297.39 850.97,297.1 851.93,296.9 852.9,297.43 853.87,297.34 854.83,297.05 855.8,296.77 856.85,297.29 857.9,297.38 858.95,298.54 860,298.35 861,298.78 862,299.1 863,299.24 864,299.03 865,298.99 866,299.85 867,300.03 868,301.33 869,301.45 870,302.55 871.1,302.8 872.2,303.74 873.3,304.45 874.43,304.16 875.57,303.45 876.7,302.8 877.64,303.44 878.59,302.91 879.53,302.79 880.47,302.76 881.41,302.85 882.36,302.71 883.3,302.84 884.35,302.83 885.4,302.51 886.45,303.05 887.5,302.95 888.55,302.13 889.6,302.88 890.65,302.93 891.7,302.78 892.67,301.86 893.63,302.26 894.6,301.78 895.57,300.88 896.53,300.59 897.5,301.25 898.35,301.81 899.2,302.25 900.45,302.95 901.7,303.84 902.95,302.08 904.2,300.78 905,300.2 905.8,299.85"/>
<path class="cv c2" shape-rendering="crispEdges" d="M905.8,299.7 906.65,301.5 907.5,303.3 908.35,307.9 909.2,312.5 910,317.9 910.8,323.3 911.65,326.8 912.5,330.3 913.8,326.7 915,315.8 916.3,307.5 917.15,306.4 918,305.3 918.85,306.4 919.7,307.5 920.5,310.4 921.3,313.3 922.15,314.3 923,315.3 923.85,313.9 924.7,312.5 925.5,307.9 926.3,303.3 927.3,299.15 928.3,295 929.15,294.35 930,293.7 931.25,295.6 932.5,297.5 933.6,302.9 934.7,308.3 935.7,314.15 936.7,320 937.5,321.9 938.3,323.8 939.15,320.65 940,317.5 941.25,307.9 942.5,298.3 943.25,294.15 944,290 944.75,287.5 945.5,285 946.5,283.75 947.5,282.5 948.4,283.75 949.3,285 950.05,287.5 950.8,290 951.65,300 952.5,310 953.5,319 954.5,328 955.4,335.8 955.85,337.7 956.3,338.3 956.75,337.7 957.2,335.8 958,330 958.93,323.33 959.87,316.67 960.8,310 962,300 963.2,290 964.13,285 965.07,280 966,275 967.25,272.75 968.5,270.5 969.5,272 970.5,273.5 971.5,275 972.75,282.5 974,290 975,299.43 976,308.87 977,318.3 978,329.15 979,340 979.4,347.5 979.85,349.4 980.3,350 980.75,349.4 981.2,347.5 982,340 983.1,329.15 984.2,318.3 985.13,308.87 986.07,299.43 987,290 987.9,282.5 988.8,275 989.9,267.5 991,260 992,257 993,254 994.25,252.75 995.5,251.5 996.75,252.75 998,254 998.9,257 999.8,260 1001,267.5 1002.2,275 1003.1,282.5 1004,290 1004.9,299.43 1005.8,308.87 1006.7,318.3 1007.63,329.43 1008.57,340.57 1009.5,351.7 1009.9,360.8 1010.35,362.7 1010.8,363.3 1011.25,362.7 1011.7,360.8 1012.5,351.7 1013.43,340.57 1014.37,329.43 1015.3,318.3 1016.27,308.87 1017.23,299.43 1018.2,290 1019.1,282.5 1020,275 1021.25,267.5 1022.5,260 1023.6,255.33 1024.7,250.67 1025.8,246 1026.7,244.57 1027.6,243.13 1028.5,241.7 1029.5,240.85 1030.5,240 1031.25,240.75 1032,241.5 1033.12,241.55 1034.25,241.6 1035.38,241.65 1036.5,241.7 1037.8,246 1039.05,253 1040.3,260 1041.4,267.5 1042.5,275 1043.6,282.5 1044.7,290 1045.63,299.43 1046.57,308.87 1047.5,318.3 1048.43,329.43 1049.37,340.57 1050.3,351.7 1051.1,371.7 1051.55,373.6 1052,374.2 1052.45,373.6 1052.9,371.7 1053.8,361.7 1054.7,351.7 1055.7,335 1056.7,318.3 1058,305 1059,298.33 1060,291.67 1061,285 1062.08,280 1063.15,275 1064.22,270 1065.3,265 1066.22,260 1067.15,255 1068.08,250 1069,245 1070,242.83 1071,240.67 1072,238.5 1072.97,237.77 1073.93,237.03 1074.9,236.3 1075.95,237.4 1077,238.5 1077.85,241.75 1078.7,245 1079.7,255 1080.7,265 1082,285 1083.2,305 1084.5,322 1085,318 1085.8,310 1086.5,291 1087.4,275 1088.7,258.3 1090,252 1091.3,250.3 1092.15,251.4 1093,252.5 1094.4,258.3 1095.2,264.15 1096,270 1097.4,286.5 1097.5,307 1097.8,288.5 1098.65,290 1099.5,291.5 1100.5,300 1101.5,308 1102.5,318 1103.25,324 1104,330 1104.8,345 1105.6,356.25 1106.4,367.5 1106.9,377.7 1107.35,379.6 1107.8,380.2 1108.25,379.6 1108.7,377.7 1109.7,367.5 1110.7,356.25 1111.7,345 1113,330 1113.5,320 1114.5,309 1115.5,299 1116.5,291 1117.5,283 1118.5,279 1119.5,275 1120.4,270 1121.3,265 1122.5,255.5 1123.25,253.5 1124,251.5 1124.75,249.75 1125.5,248 1126,245"/>
<path class="cv c1" shape-rendering="crispEdges" d="M1126,244.87 1127.25,242.83 1128.17,242.01 1129.08,242.26 1130,242.48 1130.75,241.21 1131.5,239.53 1132.5,237.97 1133.5,237.76 1134.5,236.93 1135.25,237.28 1136,237.62 1136.5,242.24 1137.5,243.34 1138.75,240.08"/>
<path class="cv c1" shape-rendering="crispEdges" d="M1126,245.38 1127.25,243.52 1128.17,242.91 1129.08,242.62 1130,243.6 1130.75,241.6 1131.5,240.03 1132.5,239.16 1133.5,238.99 1134.5,237.89 1135.25,238.77 1136,238.81 1136.5,243.02 1137.5,243.92 1138.75,240.44"/>
</svg>
</body></html>
